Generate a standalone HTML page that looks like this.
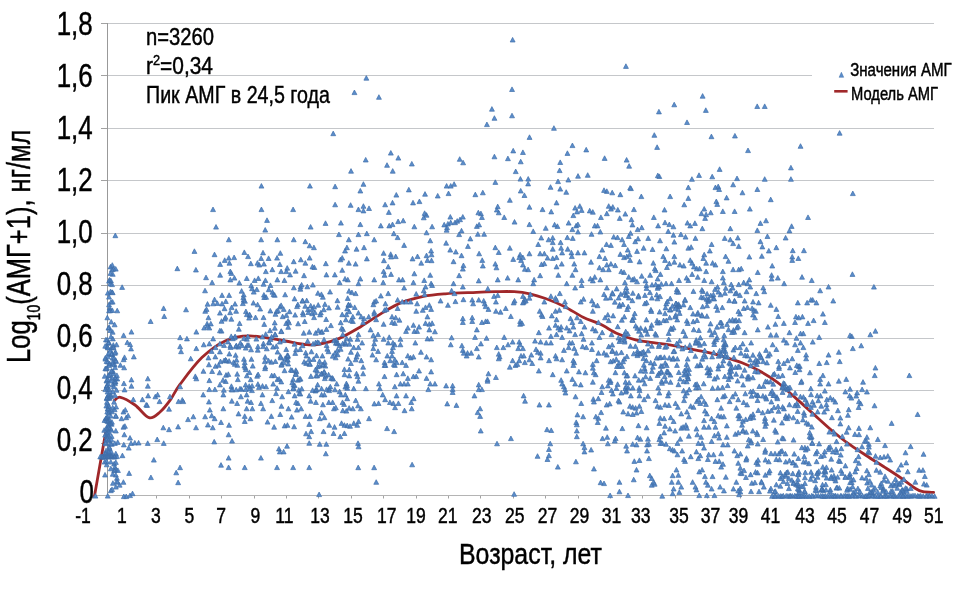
<!DOCTYPE html>
<html><head><meta charset="utf-8"><style>
html,body{margin:0;padding:0;background:#fff;}
svg{display:block;}
text{font-family:"Liberation Sans", "Noto Sans CJK SC", sans-serif;fill:#000;stroke:#000;stroke-width:0.45px;}
</style></head><body>
<svg width="958" height="590" viewBox="0 0 958 590">
<rect width="958" height="590" fill="#fff"/>
<g stroke="#c5c7ca" stroke-width="1" fill="none">
<line x1="107" y1="443.5" x2="934" y2="443.5"/><line x1="107" y1="390.5" x2="934" y2="390.5"/><line x1="107" y1="338.5" x2="934" y2="338.5"/><line x1="107" y1="285.5" x2="934" y2="285.5"/><line x1="107" y1="233.5" x2="934" y2="233.5"/><line x1="107" y1="180.5" x2="934" y2="180.5"/><line x1="107" y1="128.5" x2="934" y2="128.5"/><line x1="107" y1="75.5" x2="934" y2="75.5"/><line x1="107" y1="23.5" x2="934" y2="23.5"/>
</g>
<g stroke="#a2a2a2" stroke-width="1" fill="none">
<line x1="101" y1="495.5" x2="107" y2="495.5"/><line x1="101" y1="443.5" x2="107" y2="443.5"/><line x1="101" y1="390.5" x2="107" y2="390.5"/><line x1="101" y1="338.5" x2="107" y2="338.5"/><line x1="101" y1="285.5" x2="107" y2="285.5"/><line x1="101" y1="233.5" x2="107" y2="233.5"/><line x1="101" y1="180.5" x2="107" y2="180.5"/><line x1="101" y1="128.5" x2="107" y2="128.5"/><line x1="101" y1="75.5" x2="107" y2="75.5"/><line x1="101" y1="23.5" x2="107" y2="23.5"/>
<line x1="92.5" y1="495.5" x2="92.5" y2="498.5"/><line x1="124.5" y1="495.5" x2="124.5" y2="498.5"/><line x1="156.5" y1="495.5" x2="156.5" y2="498.5"/><line x1="189.5" y1="495.5" x2="189.5" y2="498.5"/><line x1="221.5" y1="495.5" x2="221.5" y2="498.5"/><line x1="254.5" y1="495.5" x2="254.5" y2="498.5"/><line x1="286.5" y1="495.5" x2="286.5" y2="498.5"/><line x1="318.5" y1="495.5" x2="318.5" y2="498.5"/><line x1="351.5" y1="495.5" x2="351.5" y2="498.5"/><line x1="383.5" y1="495.5" x2="383.5" y2="498.5"/><line x1="416.5" y1="495.5" x2="416.5" y2="498.5"/><line x1="448.5" y1="495.5" x2="448.5" y2="498.5"/><line x1="480.5" y1="495.5" x2="480.5" y2="498.5"/><line x1="513.5" y1="495.5" x2="513.5" y2="498.5"/><line x1="545.5" y1="495.5" x2="545.5" y2="498.5"/><line x1="578.5" y1="495.5" x2="578.5" y2="498.5"/><line x1="610.5" y1="495.5" x2="610.5" y2="498.5"/><line x1="642.5" y1="495.5" x2="642.5" y2="498.5"/><line x1="675.5" y1="495.5" x2="675.5" y2="498.5"/><line x1="707.5" y1="495.5" x2="707.5" y2="498.5"/><line x1="740.5" y1="495.5" x2="740.5" y2="498.5"/><line x1="772.5" y1="495.5" x2="772.5" y2="498.5"/><line x1="804.5" y1="495.5" x2="804.5" y2="498.5"/><line x1="837.5" y1="495.5" x2="837.5" y2="498.5"/><line x1="869.5" y1="495.5" x2="869.5" y2="498.5"/><line x1="902.5" y1="495.5" x2="902.5" y2="498.5"/><line x1="934.5" y1="495.5" x2="934.5" y2="498.5"/>
</g>
<line x1="91.5" y1="495.5" x2="934" y2="495.5" stroke="#b4b4b4" stroke-width="1"/>
<line x1="107.5" y1="23" x2="107.5" y2="496" stroke="#999" stroke-width="1"/>
<g font-size="32.4" style="stroke-width:0.7px">
<text x="93.8" y="502.7" text-anchor="end" transform="translate(93.8 0) scale(0.8 1) translate(-93.8 0)">0</text>
<text x="92.7" y="450.7" text-anchor="end" transform="translate(92.7 0) scale(0.8 1) translate(-92.7 0)">0,2</text>
<text x="92.7" y="398.7" text-anchor="end" transform="translate(92.7 0) scale(0.8 1) translate(-92.7 0)">0,4</text>
<text x="92.7" y="346.7" text-anchor="end" transform="translate(92.7 0) scale(0.8 1) translate(-92.7 0)">0,6</text>
<text x="92.7" y="294.7" text-anchor="end" transform="translate(92.7 0) scale(0.8 1) translate(-92.7 0)">0,8</text>
<text x="92.7" y="242.7" text-anchor="end" transform="translate(92.7 0) scale(0.8 1) translate(-92.7 0)">1,0</text>
<text x="92.7" y="190.7" text-anchor="end" transform="translate(92.7 0) scale(0.8 1) translate(-92.7 0)">1,2</text>
<text x="92.7" y="138.7" text-anchor="end" transform="translate(92.7 0) scale(0.8 1) translate(-92.7 0)">1,4</text>
<text x="92.7" y="86.7" text-anchor="end" transform="translate(92.7 0) scale(0.8 1) translate(-92.7 0)">1,6</text>
<text x="92.7" y="34.7" text-anchor="end" transform="translate(92.7 0) scale(0.8 1) translate(-92.7 0)">1,8</text>
</g>
<g font-size="21.4">
<text x="83.0" y="522.9" text-anchor="middle" transform="translate(83.0 0) scale(0.82 1) translate(-83.0 0)">-1</text>
<text x="121.8" y="522.9" text-anchor="middle" transform="translate(121.8 0) scale(0.82 1) translate(-121.8 0)">1</text>
<text x="155.9" y="522.9" text-anchor="middle" transform="translate(155.9 0) scale(0.82 1) translate(-155.9 0)">3</text>
<text x="189.5" y="522.9" text-anchor="middle" transform="translate(189.5 0) scale(0.82 1) translate(-189.5 0)">5</text>
<text x="221.2" y="522.9" text-anchor="middle" transform="translate(221.2 0) scale(0.82 1) translate(-221.2 0)">7</text>
<text x="255.5" y="522.9" text-anchor="middle" transform="translate(255.5 0) scale(0.82 1) translate(-255.5 0)">9</text>
<text x="284.3" y="522.9" text-anchor="middle" transform="translate(284.3 0) scale(0.82 1) translate(-284.3 0)">11</text>
<text x="319.9" y="522.9" text-anchor="middle" transform="translate(319.9 0) scale(0.82 1) translate(-319.9 0)">13</text>
<text x="353.1" y="522.9" text-anchor="middle" transform="translate(353.1 0) scale(0.82 1) translate(-353.1 0)">15</text>
<text x="386.8" y="522.9" text-anchor="middle" transform="translate(386.8 0) scale(0.82 1) translate(-386.8 0)">17</text>
<text x="415.9" y="522.9" text-anchor="middle" transform="translate(415.9 0) scale(0.82 1) translate(-415.9 0)">19</text>
<text x="447.8" y="522.9" text-anchor="middle" transform="translate(447.8 0) scale(0.82 1) translate(-447.8 0)">21</text>
<text x="481.7" y="522.9" text-anchor="middle" transform="translate(481.7 0) scale(0.82 1) translate(-481.7 0)">23</text>
<text x="514.8" y="522.9" text-anchor="middle" transform="translate(514.8 0) scale(0.82 1) translate(-514.8 0)">25</text>
<text x="547.6" y="522.9" text-anchor="middle" transform="translate(547.6 0) scale(0.82 1) translate(-547.6 0)">27</text>
<text x="579.6" y="522.9" text-anchor="middle" transform="translate(579.6 0) scale(0.82 1) translate(-579.6 0)">29</text>
<text x="611.5" y="522.9" text-anchor="middle" transform="translate(611.5 0) scale(0.82 1) translate(-611.5 0)">31</text>
<text x="640.8" y="522.9" text-anchor="middle" transform="translate(640.8 0) scale(0.82 1) translate(-640.8 0)">33</text>
<text x="678.9" y="522.9" text-anchor="middle" transform="translate(678.9 0) scale(0.82 1) translate(-678.9 0)">35</text>
<text x="710.5" y="522.9" text-anchor="middle" transform="translate(710.5 0) scale(0.82 1) translate(-710.5 0)">37</text>
<text x="738.6" y="522.9" text-anchor="middle" transform="translate(738.6 0) scale(0.82 1) translate(-738.6 0)">39</text>
<text x="770.4" y="522.9" text-anchor="middle" transform="translate(770.4 0) scale(0.82 1) translate(-770.4 0)">41</text>
<text x="805.0" y="522.9" text-anchor="middle" transform="translate(805.0 0) scale(0.82 1) translate(-805.0 0)">43</text>
<text x="836.9" y="522.9" text-anchor="middle" transform="translate(836.9 0) scale(0.82 1) translate(-836.9 0)">45</text>
<text x="869.6" y="522.9" text-anchor="middle" transform="translate(869.6 0) scale(0.82 1) translate(-869.6 0)">47</text>
<text x="902.3" y="522.9" text-anchor="middle" transform="translate(902.3 0) scale(0.82 1) translate(-902.3 0)">49</text>
<text x="933.7" y="522.9" text-anchor="middle" transform="translate(933.7 0) scale(0.82 1) translate(-933.7 0)">51</text>
</g>
<text x="459" y="563.9" font-size="29.7" textLength="143" lengthAdjust="spacingAndGlyphs">Возраст, лет</text>
<text transform="translate(29.9 363) rotate(-90)" font-size="32.7" textLength="233.5" lengthAdjust="spacingAndGlyphs"><tspan>Log</tspan><tspan font-size="18" dy="9.8">10</tspan><tspan dy="-9.8">(АМГ+1), нг/мл</tspan></text>
<g font-size="24.5">
<text x="146" y="45" textLength="68" lengthAdjust="spacingAndGlyphs">n=3260</text>
<text x="146" y="74.2" textLength="67" lengthAdjust="spacingAndGlyphs"><tspan>r</tspan><tspan font-size="15" dy="-9">2</tspan><tspan dy="9">=0,34</tspan></text>
<text x="146" y="103.3" textLength="184" lengthAdjust="spacingAndGlyphs">Пик АМГ в 24,5 года</text>
</g>
<rect x="812" y="55" width="146" height="55" fill="#fff"/>
<path d="M94.5,496.0 L105.9,430.9 M114.2,400.6 C115.2,400.1 117.0,396.6 120.5,397.3 C124.0,398.0 130.2,401.6 135.0,405.0 C139.8,408.4 144.8,416.5 149.0,417.7 C153.2,418.9 156.5,414.9 160.0,412.0 C163.5,409.1 166.7,404.9 170.0,400.4 C173.3,395.8 174.5,391.8 179.8,384.7 C185.1,377.6 194.3,364.9 201.9,357.6 C209.5,350.3 217.7,344.3 225.6,340.7 C233.5,337.1 240.3,336.0 249.3,335.9 C258.3,335.8 270.2,338.5 279.8,340.0 C289.4,341.5 300.3,344.0 307.0,344.7 C313.7,345.4 314.7,345.0 320.0,344.0 C325.3,343.0 332.0,341.5 338.8,338.6 C345.6,335.7 353.4,331.0 360.7,326.7 C368.0,322.4 375.8,316.6 382.6,312.6 C389.4,308.6 394.6,305.3 401.4,302.6 C408.2,299.9 416.1,297.9 423.4,296.4 C430.7,294.9 436.4,294.5 445.3,293.8 C454.2,293.1 468.2,292.7 476.6,292.3 C485.0,291.9 489.1,291.8 495.4,291.7 C501.7,291.6 508.5,291.3 514.2,291.7 C519.9,292.1 524.6,292.7 529.8,293.8 C535.0,294.9 539.8,296.4 545.5,298.5 C551.2,300.6 558.0,303.3 564.3,306.4 C570.6,309.5 577.1,314.4 583.1,317.3 C589.1,320.2 594.2,321.4 600.0,324.1 C605.8,326.8 611.8,331.1 617.7,333.7 C623.6,336.3 629.6,338.3 635.5,339.8 C641.4,341.3 647.3,341.7 653.2,342.6 C659.1,343.5 665.1,344.1 671.0,345.1 C676.9,346.1 682.8,347.4 688.7,348.6 C694.6,349.8 700.6,350.8 706.5,352.2 C712.4,353.6 718.3,355.0 724.2,356.8 C730.1,358.6 736.1,360.4 742.0,362.8 C747.9,365.2 753.8,367.8 759.7,371.0 C765.6,374.2 771.6,377.9 777.5,382.3 C783.4,386.7 789.3,392.4 795.2,397.6 C801.1,402.8 807.1,408.3 813.0,413.6 C818.9,418.9 824.8,424.5 830.7,429.5 C836.6,434.5 842.5,439.4 848.4,443.7 C854.3,448.0 860.3,451.6 866.2,455.5 C872.1,459.4 878.0,463.0 883.9,466.8 C889.8,470.6 896.4,474.8 901.7,478.5 C907.0,482.2 912.4,486.6 915.9,488.8 C919.4,491.0 920.0,491.1 923.0,491.7 C926.0,492.3 931.8,492.3 933.6,492.4" fill="none" stroke="#a0282a" stroke-width="2.8" stroke-linejoin="round" stroke-linecap="round"/>
<path d="M512.6 37.4l2.5 4.6h-4.9zM366.3 75.6l2.5 4.6h-4.9zM354.4 90.0l2.5 4.6h-4.9zM378.9 94.7l2.5 4.6h-4.9zM512.0 86.9l2.5 4.6h-4.9zM491.9 106.6l2.5 4.6h-4.9zM494.4 115.7l2.5 4.6h-4.9zM486.9 122.0l2.5 4.6h-4.9zM512.0 113.2l2.5 4.6h-4.9zM333.2 131.1l2.5 4.6h-4.9zM553.9 125.7l2.5 4.6h-4.9zM529.5 134.8l2.5 4.6h-4.9zM572.4 143.0l2.5 4.6h-4.9zM567.4 150.8l2.5 4.6h-4.9zM586.2 147.3l2.5 4.6h-4.9zM513.2 148.3l2.5 4.6h-4.9zM522.9 149.9l2.5 4.6h-4.9zM494.4 154.2l2.5 4.6h-4.9zM507.9 156.1l2.5 4.6h-4.9zM520.7 159.2l2.5 4.6h-4.9zM560.2 159.9l2.5 4.6h-4.9zM559.6 168.0l2.5 4.6h-4.9zM515.7 169.0l2.5 4.6h-4.9zM520.4 176.5l2.5 4.6h-4.9zM528.2 176.5l2.5 4.6h-4.9zM578.0 173.6l2.5 4.6h-4.9zM587.7 172.7l2.5 4.6h-4.9zM568.3 177.4l2.5 4.6h-4.9zM558.0 179.0l2.5 4.6h-4.9zM390.8 150.5l2.5 4.6h-4.9zM398.3 155.5l2.5 4.6h-4.9zM365.7 157.4l2.5 4.6h-4.9zM387.0 162.7l2.5 4.6h-4.9zM392.7 168.6l2.5 4.6h-4.9zM411.8 161.4l2.5 4.6h-4.9zM351.0 168.6l2.5 4.6h-4.9zM459.7 156.7l2.5 4.6h-4.9zM463.1 160.2l2.5 4.6h-4.9zM625.9 63.8l2.5 4.6h-4.9zM702.6 93.6l2.5 4.6h-4.9zM674.2 102.2l2.5 4.6h-4.9zM658.9 109.3l2.5 4.6h-4.9zM705.8 107.8l2.5 4.6h-4.9zM757.2 103.9l2.5 4.6h-4.9zM764.7 103.9l2.5 4.6h-4.9zM687.0 119.9l2.5 4.6h-4.9zM654.3 132.7l2.5 4.6h-4.9zM657.1 144.8l2.5 4.6h-4.9zM711.4 134.1l2.5 4.6h-4.9zM734.9 133.4l2.5 4.6h-4.9zM748.0 148.0l2.5 4.6h-4.9zM800.5 143.7l2.5 4.6h-4.9zM839.6 130.6l2.5 4.6h-4.9zM604.6 155.8l2.5 4.6h-4.9zM626.6 157.5l2.5 4.6h-4.9zM629.1 163.6l2.5 4.6h-4.9zM719.6 166.8l2.5 4.6h-4.9zM790.9 165.3l2.5 4.6h-4.9zM657.8 173.1l2.5 4.6h-4.9zM659.3 173.9l2.5 4.6h-4.9zM699.0 172.8l2.5 4.6h-4.9zM691.9 176.7l2.5 4.6h-4.9zM712.2 174.2l2.5 4.6h-4.9zM737.0 176.0l2.5 4.6h-4.9zM764.7 176.7l2.5 4.6h-4.9zM790.9 176.7l2.5 4.6h-4.9zM115.3 233.1l2.5 4.6h-4.9zM213.0 207.0l2.5 4.6h-4.9zM216.0 224.5l2.5 4.6h-4.9zM261.4 183.5l2.5 4.6h-4.9zM261.4 207.0l2.5 4.6h-4.9zM267.0 217.8l2.5 4.6h-4.9zM265.2 227.5l2.5 4.6h-4.9zM293.1 207.0l2.5 4.6h-4.9zM309.9 183.5l2.5 4.6h-4.9zM310.6 224.5l2.5 4.6h-4.9zM325.5 220.8l2.5 4.6h-4.9zM223.8 387.6l2.5 4.6h-4.9zM231.4 387.2l2.5 4.6h-4.9zM236.2 387.2l2.5 4.6h-4.9zM240.0 386.3l2.5 4.6h-4.9zM249.5 386.3l2.5 4.6h-4.9zM277.0 385.7l2.5 4.6h-4.9zM288.4 389.1l2.5 4.6h-4.9zM293.1 386.3l2.5 4.6h-4.9zM298.8 387.6l2.5 4.6h-4.9zM301.7 386.3l2.5 4.6h-4.9zM316.8 387.2l2.5 4.6h-4.9zM329.2 386.3l2.5 4.6h-4.9zM334.9 387.2l2.5 4.6h-4.9zM339.6 389.1l2.5 4.6h-4.9zM347.2 385.7l2.5 4.6h-4.9zM223.3 392.3l2.5 4.6h-4.9zM240.9 394.2l2.5 4.6h-4.9zM246.6 392.3l2.5 4.6h-4.9zM262.4 392.3l2.5 4.6h-4.9zM276.0 391.0l2.5 4.6h-4.9zM282.1 394.2l2.5 4.6h-4.9zM294.6 393.3l2.5 4.6h-4.9zM299.2 391.0l2.5 4.6h-4.9zM300.3 391.4l2.5 4.6h-4.9zM309.2 393.3l2.5 4.6h-4.9zM321.6 392.3l2.5 4.6h-4.9zM324.4 392.3l2.5 4.6h-4.9zM340.9 392.3l2.5 4.6h-4.9zM345.3 392.3l2.5 4.6h-4.9zM347.2 396.1l2.5 4.6h-4.9zM231.8 398.6l2.5 4.6h-4.9zM237.1 400.9l2.5 4.6h-4.9zM247.6 398.6l2.5 4.6h-4.9zM251.0 399.9l2.5 4.6h-4.9zM260.9 400.9l2.5 4.6h-4.9zM272.2 398.0l2.5 4.6h-4.9zM296.0 399.9l2.5 4.6h-4.9zM297.9 400.9l2.5 4.6h-4.9zM310.6 398.6l2.5 4.6h-4.9zM315.9 399.9l2.5 4.6h-4.9zM322.9 402.2l2.5 4.6h-4.9zM328.8 399.9l2.5 4.6h-4.9zM332.6 399.9l2.5 4.6h-4.9zM342.5 399.9l2.5 4.6h-4.9zM344.0 401.8l2.5 4.6h-4.9zM223.3 406.2l2.5 4.6h-4.9zM246.6 406.2l2.5 4.6h-4.9zM252.3 406.2l2.5 4.6h-4.9zM263.1 406.2l2.5 4.6h-4.9zM281.4 403.7l2.5 4.6h-4.9zM288.4 406.2l2.5 4.6h-4.9zM296.9 407.5l2.5 4.6h-4.9zM301.1 406.2l2.5 4.6h-4.9zM333.9 406.2l2.5 4.6h-4.9zM335.8 405.2l2.5 4.6h-4.9zM342.8 408.1l2.5 4.6h-4.9zM346.3 408.5l2.5 4.6h-4.9zM349.1 405.6l2.5 4.6h-4.9zM238.5 411.3l2.5 4.6h-4.9zM244.7 413.8l2.5 4.6h-4.9zM250.4 416.1l2.5 4.6h-4.9zM271.3 413.8l2.5 4.6h-4.9zM280.2 411.9l2.5 4.6h-4.9zM291.6 414.5l2.5 4.6h-4.9zM305.5 413.8l2.5 4.6h-4.9zM309.8 413.8l2.5 4.6h-4.9zM321.6 410.4l2.5 4.6h-4.9zM319.7 416.1l2.5 4.6h-4.9zM324.4 415.1l2.5 4.6h-4.9zM221.0 419.9l2.5 4.6h-4.9zM229.0 422.7l2.5 4.6h-4.9zM244.7 418.9l2.5 4.6h-4.9zM267.5 419.5l2.5 4.6h-4.9zM274.1 424.6l2.5 4.6h-4.9zM284.6 423.3l2.5 4.6h-4.9zM287.4 422.7l2.5 4.6h-4.9zM294.1 424.2l2.5 4.6h-4.9zM309.2 421.8l2.5 4.6h-4.9zM329.2 422.7l2.5 4.6h-4.9zM334.5 424.6l2.5 4.6h-4.9zM341.5 420.8l2.5 4.6h-4.9zM344.4 422.7l2.5 4.6h-4.9zM347.2 423.1l2.5 4.6h-4.9zM228.6 432.2l2.5 4.6h-4.9zM306.0 431.2l2.5 4.6h-4.9zM311.1 429.0l2.5 4.6h-4.9zM323.5 429.0l2.5 4.6h-4.9zM333.5 430.9l2.5 4.6h-4.9zM344.4 430.9l2.5 4.6h-4.9zM309.2 434.1l2.5 4.6h-4.9zM340.2 434.1l2.5 4.6h-4.9zM232.0 438.5l2.5 4.6h-4.9zM309.2 440.7l2.5 4.6h-4.9zM319.7 441.7l2.5 4.6h-4.9zM326.3 441.7l2.5 4.6h-4.9zM287.0 443.6l2.5 4.6h-4.9zM278.9 446.4l2.5 4.6h-4.9zM279.8 449.3l2.5 4.6h-4.9zM283.6 449.3l2.5 4.6h-4.9zM325.8 451.2l2.5 4.6h-4.9zM228.6 455.5l2.5 4.6h-4.9zM260.9 455.5l2.5 4.6h-4.9zM221.0 462.6l2.5 4.6h-4.9zM228.6 465.0l2.5 4.6h-4.9zM244.7 465.0l2.5 4.6h-4.9zM277.0 465.0l2.5 4.6h-4.9zM293.1 465.0l2.5 4.6h-4.9zM309.2 465.0l2.5 4.6h-4.9zM319.1 492.0l2.5 4.6h-4.9zM382.7 392.3l2.5 4.6h-4.9zM396.5 393.3l2.5 4.6h-4.9zM406.0 393.3l2.5 4.6h-4.9zM413.6 396.1l2.5 4.6h-4.9zM355.7 398.0l2.5 4.6h-4.9zM385.1 397.1l2.5 4.6h-4.9zM389.9 399.9l2.5 4.6h-4.9zM393.3 400.9l2.5 4.6h-4.9zM398.4 400.9l2.5 4.6h-4.9zM411.2 399.9l2.5 4.6h-4.9zM374.3 401.3l2.5 4.6h-4.9zM378.5 400.9l2.5 4.6h-4.9zM358.0 403.2l2.5 4.6h-4.9zM352.8 406.2l2.5 4.6h-4.9zM360.8 406.2l2.5 4.6h-4.9zM395.0 405.1l2.5 4.6h-4.9zM404.5 408.1l2.5 4.6h-4.9zM411.7 406.2l2.5 4.6h-4.9zM452.6 389.9l2.5 4.6h-4.9zM447.2 401.3l2.5 4.6h-4.9zM456.4 402.8l2.5 4.6h-4.9zM474.4 393.3l2.5 4.6h-4.9zM480.1 406.2l2.5 4.6h-4.9zM477.6 410.0l2.5 4.6h-4.9zM480.1 413.8l2.5 4.6h-4.9zM369.0 416.1l2.5 4.6h-4.9zM358.5 418.9l2.5 4.6h-4.9zM353.8 420.8l2.5 4.6h-4.9zM357.2 422.7l2.5 4.6h-4.9zM350.0 423.7l2.5 4.6h-4.9zM387.0 426.0l2.5 4.6h-4.9zM394.1 429.0l2.5 4.6h-4.9zM480.7 428.4l2.5 4.6h-4.9zM358.0 440.8l2.5 4.6h-4.9zM358.5 444.2l2.5 4.6h-4.9zM358.2 465.1l2.5 4.6h-4.9zM374.1 465.1l2.5 4.6h-4.9zM412.1 462.2l2.5 4.6h-4.9zM376.2 479.7l2.5 4.6h-4.9zM565.4 390.4l2.5 4.6h-4.9zM575.5 394.2l2.5 4.6h-4.9zM523.6 393.3l2.5 4.6h-4.9zM525.0 398.6l2.5 4.6h-4.9zM539.4 402.4l2.5 4.6h-4.9zM548.9 402.4l2.5 4.6h-4.9zM581.2 400.9l2.5 4.6h-4.9zM593.3 396.7l2.5 4.6h-4.9zM598.3 396.1l2.5 4.6h-4.9zM593.9 399.4l2.5 4.6h-4.9zM601.5 389.9l2.5 4.6h-4.9zM606.6 402.4l2.5 4.6h-4.9zM609.7 401.3l2.5 4.6h-4.9zM577.4 412.3l2.5 4.6h-4.9zM583.1 414.2l2.5 4.6h-4.9zM595.8 414.2l2.5 4.6h-4.9zM598.3 415.7l2.5 4.6h-4.9zM601.1 410.0l2.5 4.6h-4.9zM597.7 419.9l2.5 4.6h-4.9zM576.2 419.9l2.5 4.6h-4.9zM576.8 422.2l2.5 4.6h-4.9zM547.0 427.1l2.5 4.6h-4.9zM551.2 427.9l2.5 4.6h-4.9zM576.8 428.4l2.5 4.6h-4.9zM605.9 425.6l2.5 4.6h-4.9zM576.8 434.1l2.5 4.6h-4.9zM510.9 436.0l2.5 4.6h-4.9zM602.5 436.0l2.5 4.6h-4.9zM607.2 434.7l2.5 4.6h-4.9zM497.0 441.2l2.5 4.6h-4.9zM550.2 441.2l2.5 4.6h-4.9zM583.1 441.2l2.5 4.6h-4.9zM607.8 441.2l2.5 4.6h-4.9zM584.4 445.0l2.5 4.6h-4.9zM548.9 446.9l2.5 4.6h-4.9zM591.1 447.4l2.5 4.6h-4.9zM584.4 449.3l2.5 4.6h-4.9zM537.5 453.7l2.5 4.6h-4.9zM548.9 453.1l2.5 4.6h-4.9zM547.4 456.9l2.5 4.6h-4.9zM575.9 459.2l2.5 4.6h-4.9zM557.8 464.5l2.5 4.6h-4.9zM593.9 466.4l2.5 4.6h-4.9zM600.6 480.1l2.5 4.6h-4.9zM604.0 481.0l2.5 4.6h-4.9zM514.1 491.7l2.5 4.6h-4.9zM610.1 493.0l2.5 4.6h-4.9zM612.8 391.4l2.5 4.6h-4.9zM621.3 390.4l2.5 4.6h-4.9zM625.7 389.5l2.5 4.6h-4.9zM630.8 393.3l2.5 4.6h-4.9zM618.5 398.0l2.5 4.6h-4.9zM619.4 399.4l2.5 4.6h-4.9zM629.9 403.7l2.5 4.6h-4.9zM632.7 404.7l2.5 4.6h-4.9zM635.6 405.6l2.5 4.6h-4.9zM639.4 403.7l2.5 4.6h-4.9zM623.2 409.4l2.5 4.6h-4.9zM628.0 411.3l2.5 4.6h-4.9zM632.7 411.9l2.5 4.6h-4.9zM636.5 410.4l2.5 4.6h-4.9zM641.3 408.9l2.5 4.6h-4.9zM639.4 393.3l2.5 4.6h-4.9zM647.9 393.7l2.5 4.6h-4.9zM644.1 397.1l2.5 4.6h-4.9zM655.5 398.0l2.5 4.6h-4.9zM659.3 390.4l2.5 4.6h-4.9zM657.4 403.7l2.5 4.6h-4.9zM660.3 404.7l2.5 4.6h-4.9zM665.0 402.4l2.5 4.6h-4.9zM668.8 402.8l2.5 4.6h-4.9zM667.9 393.3l2.5 4.6h-4.9zM668.8 390.4l2.5 4.6h-4.9zM675.5 400.9l2.5 4.6h-4.9zM677.8 404.7l2.5 4.6h-4.9zM684.0 398.0l2.5 4.6h-4.9zM686.9 390.4l2.5 4.6h-4.9zM685.0 393.3l2.5 4.6h-4.9zM686.9 409.4l2.5 4.6h-4.9zM681.2 411.3l2.5 4.6h-4.9zM690.7 403.7l2.5 4.6h-4.9zM693.5 404.7l2.5 4.6h-4.9zM696.7 399.0l2.5 4.6h-4.9zM698.3 397.1l2.5 4.6h-4.9zM701.1 394.2l2.5 4.6h-4.9zM700.2 400.9l2.5 4.6h-4.9zM704.0 399.0l2.5 4.6h-4.9zM705.9 401.8l2.5 4.6h-4.9zM704.9 408.5l2.5 4.6h-4.9zM706.8 411.3l2.5 4.6h-4.9zM717.3 397.1l2.5 4.6h-4.9zM721.1 405.6l2.5 4.6h-4.9zM723.0 394.2l2.5 4.6h-4.9zM724.9 393.3l2.5 4.6h-4.9zM729.6 399.0l2.5 4.6h-4.9zM732.5 394.2l2.5 4.6h-4.9zM735.3 391.4l2.5 4.6h-4.9zM738.2 397.1l2.5 4.6h-4.9zM718.2 413.2l2.5 4.6h-4.9zM721.1 414.2l2.5 4.6h-4.9zM723.9 414.2l2.5 4.6h-4.9zM736.3 405.6l2.5 4.6h-4.9zM738.2 413.2l2.5 4.6h-4.9zM739.1 416.1l2.5 4.6h-4.9zM622.3 426.0l2.5 4.6h-4.9zM638.4 423.1l2.5 4.6h-4.9zM637.5 435.1l2.5 4.6h-4.9zM640.3 436.6l2.5 4.6h-4.9zM615.6 436.0l2.5 4.6h-4.9zM614.7 438.5l2.5 4.6h-4.9zM646.6 425.2l2.5 4.6h-4.9zM647.9 436.6l2.5 4.6h-4.9zM660.3 415.7l2.5 4.6h-4.9zM664.1 416.1l2.5 4.6h-4.9zM659.3 420.8l2.5 4.6h-4.9zM665.0 423.7l2.5 4.6h-4.9zM669.8 426.5l2.5 4.6h-4.9zM675.1 428.4l2.5 4.6h-4.9zM664.1 430.3l2.5 4.6h-4.9zM660.3 434.1l2.5 4.6h-4.9zM659.3 437.0l2.5 4.6h-4.9zM662.2 440.8l2.5 4.6h-4.9zM648.9 441.7l2.5 4.6h-4.9zM670.7 415.1l2.5 4.6h-4.9zM673.6 418.9l2.5 4.6h-4.9zM683.1 424.6l2.5 4.6h-4.9zM685.9 422.7l2.5 4.6h-4.9zM686.9 425.6l2.5 4.6h-4.9zM681.2 425.6l2.5 4.6h-4.9zM688.8 414.2l2.5 4.6h-4.9zM680.2 436.6l2.5 4.6h-4.9zM688.8 433.6l2.5 4.6h-4.9zM677.4 440.8l2.5 4.6h-4.9zM696.4 426.5l2.5 4.6h-4.9zM697.3 432.2l2.5 4.6h-4.9zM701.1 434.7l2.5 4.6h-4.9zM704.0 418.0l2.5 4.6h-4.9zM704.0 424.6l2.5 4.6h-4.9zM708.7 424.6l2.5 4.6h-4.9zM711.6 416.1l2.5 4.6h-4.9zM714.4 418.9l2.5 4.6h-4.9zM715.4 424.6l2.5 4.6h-4.9zM718.2 431.3l2.5 4.6h-4.9zM714.4 433.2l2.5 4.6h-4.9zM719.2 435.5l2.5 4.6h-4.9zM726.8 423.3l2.5 4.6h-4.9zM726.8 434.7l2.5 4.6h-4.9zM735.3 431.7l2.5 4.6h-4.9zM738.2 430.3l2.5 4.6h-4.9zM711.6 438.9l2.5 4.6h-4.9zM626.1 443.6l2.5 4.6h-4.9zM627.0 448.4l2.5 4.6h-4.9zM632.7 441.7l2.5 4.6h-4.9zM636.5 442.3l2.5 4.6h-4.9zM634.3 458.8l2.5 4.6h-4.9zM639.4 457.9l2.5 4.6h-4.9zM647.0 442.3l2.5 4.6h-4.9zM647.0 448.4l2.5 4.6h-4.9zM648.9 456.0l2.5 4.6h-4.9zM660.3 440.8l2.5 4.6h-4.9zM666.0 441.7l2.5 4.6h-4.9zM669.8 446.1l2.5 4.6h-4.9zM672.6 447.4l2.5 4.6h-4.9zM674.5 448.4l2.5 4.6h-4.9zM677.4 452.2l2.5 4.6h-4.9zM682.1 448.4l2.5 4.6h-4.9zM684.0 456.9l2.5 4.6h-4.9zM685.0 458.8l2.5 4.6h-4.9zM690.7 454.1l2.5 4.6h-4.9zM696.4 449.3l2.5 4.6h-4.9zM698.3 456.0l2.5 4.6h-4.9zM700.2 453.1l2.5 4.6h-4.9zM704.0 445.5l2.5 4.6h-4.9zM698.3 440.8l2.5 4.6h-4.9zM702.1 440.8l2.5 4.6h-4.9zM708.7 452.2l2.5 4.6h-4.9zM713.5 452.2l2.5 4.6h-4.9zM707.8 456.9l2.5 4.6h-4.9zM715.4 458.8l2.5 4.6h-4.9zM719.2 458.8l2.5 4.6h-4.9zM721.1 451.2l2.5 4.6h-4.9zM723.0 461.7l2.5 4.6h-4.9zM723.0 442.3l2.5 4.6h-4.9zM727.7 442.3l2.5 4.6h-4.9zM734.4 448.4l2.5 4.6h-4.9zM737.2 453.1l2.5 4.6h-4.9zM738.2 460.7l2.5 4.6h-4.9zM721.1 464.5l2.5 4.6h-4.9zM619.4 479.7l2.5 4.6h-4.9zM619.4 489.2l2.5 4.6h-4.9zM628.0 493.0l2.5 4.6h-4.9zM633.7 477.2l2.5 4.6h-4.9zM636.5 467.4l2.5 4.6h-4.9zM649.8 473.1l2.5 4.6h-4.9zM651.7 475.9l2.5 4.6h-4.9zM653.6 479.7l2.5 4.6h-4.9zM651.7 482.6l2.5 4.6h-4.9zM654.6 481.6l2.5 4.6h-4.9zM662.2 493.6l2.5 4.6h-4.9zM676.4 467.4l2.5 4.6h-4.9zM672.6 473.1l2.5 4.6h-4.9zM678.3 472.7l2.5 4.6h-4.9zM671.7 479.7l2.5 4.6h-4.9zM678.3 479.7l2.5 4.6h-4.9zM681.2 484.5l2.5 4.6h-4.9zM673.6 486.4l2.5 4.6h-4.9zM672.6 491.1l2.5 4.6h-4.9zM679.3 489.8l2.5 4.6h-4.9zM692.6 479.7l2.5 4.6h-4.9zM695.4 484.5l2.5 4.6h-4.9zM696.4 487.3l2.5 4.6h-4.9zM699.2 493.0l2.5 4.6h-4.9zM699.2 469.3l2.5 4.6h-4.9zM702.1 467.4l2.5 4.6h-4.9zM704.9 474.0l2.5 4.6h-4.9zM705.9 479.7l2.5 4.6h-4.9zM707.8 482.6l2.5 4.6h-4.9zM712.5 474.0l2.5 4.6h-4.9zM711.6 486.4l2.5 4.6h-4.9zM720.1 484.5l2.5 4.6h-4.9zM723.9 488.3l2.5 4.6h-4.9zM725.8 474.6l2.5 4.6h-4.9zM706.8 493.0l2.5 4.6h-4.9zM714.4 493.0l2.5 4.6h-4.9zM733.4 486.4l2.5 4.6h-4.9zM736.3 479.7l2.5 4.6h-4.9zM738.2 488.3l2.5 4.6h-4.9zM739.1 492.1l2.5 4.6h-4.9zM874.5 403.2l2.5 4.6h-4.9zM917.6 411.9l2.5 4.6h-4.9zM891.6 420.8l2.5 4.6h-4.9zM870.2 425.2l2.5 4.6h-4.9zM877.8 436.9l2.5 4.6h-4.9zM866.9 434.7l2.5 4.6h-4.9zM868.8 441.7l2.5 4.6h-4.9zM868.8 444.5l2.5 4.6h-4.9zM885.0 443.0l2.5 4.6h-4.9zM910.6 444.0l2.5 4.6h-4.9zM905.5 450.2l2.5 4.6h-4.9zM923.5 451.7l2.5 4.6h-4.9zM869.4 450.2l2.5 4.6h-4.9zM875.5 453.6l2.5 4.6h-4.9zM880.2 455.0l2.5 4.6h-4.9zM884.0 454.4l2.5 4.6h-4.9zM887.8 453.6l2.5 4.6h-4.9zM890.1 457.4l2.5 4.6h-4.9zM876.4 459.7l2.5 4.6h-4.9zM906.2 460.3l2.5 4.6h-4.9zM901.1 462.5l2.5 4.6h-4.9zM898.3 467.3l2.5 4.6h-4.9zM907.7 469.2l2.5 4.6h-4.9zM919.1 467.7l2.5 4.6h-4.9zM922.9 467.7l2.5 4.6h-4.9zM876.4 467.7l2.5 4.6h-4.9zM880.2 469.6l2.5 4.6h-4.9zM866.9 468.2l2.5 4.6h-4.9zM868.8 472.0l2.5 4.6h-4.9zM924.8 473.9l2.5 4.6h-4.9zM885.0 473.9l2.5 4.6h-4.9zM884.0 477.7l2.5 4.6h-4.9zM887.8 478.7l2.5 4.6h-4.9zM895.4 476.8l2.5 4.6h-4.9zM903.9 476.8l2.5 4.6h-4.9zM915.3 479.6l2.5 4.6h-4.9zM923.9 481.5l2.5 4.6h-4.9zM926.7 482.5l2.5 4.6h-4.9zM869.8 478.7l2.5 4.6h-4.9zM871.7 482.5l2.5 4.6h-4.9zM880.2 483.4l2.5 4.6h-4.9zM896.4 480.6l2.5 4.6h-4.9zM901.1 479.6l2.5 4.6h-4.9zM351.9 290.0l2.5 4.6h-4.9zM355.6 291.0l2.5 4.6h-4.9zM380.8 293.4l2.5 4.6h-4.9zM388.2 291.0l2.5 4.6h-4.9zM374.2 299.4l2.5 4.6h-4.9zM376.1 298.4l2.5 4.6h-4.9zM373.3 302.1l2.5 4.6h-4.9zM385.4 301.2l2.5 4.6h-4.9zM354.7 304.9l2.5 4.6h-4.9zM397.6 297.5l2.5 4.6h-4.9zM402.2 299.4l2.5 4.6h-4.9zM406.0 299.4l2.5 4.6h-4.9zM410.6 299.4l2.5 4.6h-4.9zM416.2 291.5l2.5 4.6h-4.9zM404.1 285.4l2.5 4.6h-4.9zM425.5 284.4l2.5 4.6h-4.9zM423.7 288.2l2.5 4.6h-4.9zM424.6 291.9l2.5 4.6h-4.9zM417.1 301.2l2.5 4.6h-4.9zM425.5 304.9l2.5 4.6h-4.9zM429.3 302.7l2.5 4.6h-4.9zM422.7 307.7l2.5 4.6h-4.9zM416.2 308.7l2.5 4.6h-4.9zM431.1 306.8l2.5 4.6h-4.9zM440.5 298.4l2.5 4.6h-4.9zM447.9 302.7l2.5 4.6h-4.9zM451.6 288.2l2.5 4.6h-4.9zM454.4 291.0l2.5 4.6h-4.9zM455.4 299.0l2.5 4.6h-4.9zM462.8 284.4l2.5 4.6h-4.9zM463.4 297.1l2.5 4.6h-4.9zM472.2 297.5l2.5 4.6h-4.9zM473.1 301.2l2.5 4.6h-4.9zM478.7 297.5l2.5 4.6h-4.9zM397.6 305.9l2.5 4.6h-4.9zM384.5 307.7l2.5 4.6h-4.9zM386.4 306.8l2.5 4.6h-4.9zM358.4 310.5l2.5 4.6h-4.9zM361.2 314.3l2.5 4.6h-4.9zM364.0 316.1l2.5 4.6h-4.9zM368.7 314.3l2.5 4.6h-4.9zM374.2 309.6l2.5 4.6h-4.9zM374.2 311.5l2.5 4.6h-4.9zM352.8 314.3l2.5 4.6h-4.9zM350.9 318.0l2.5 4.6h-4.9zM352.8 318.9l2.5 4.6h-4.9zM363.1 319.9l2.5 4.6h-4.9zM370.5 327.3l2.5 4.6h-4.9zM373.3 332.9l2.5 4.6h-4.9zM378.0 332.0l2.5 4.6h-4.9zM376.1 317.1l2.5 4.6h-4.9zM383.6 321.7l2.5 4.6h-4.9zM392.0 314.3l2.5 4.6h-4.9zM395.7 315.2l2.5 4.6h-4.9zM392.0 319.9l2.5 4.6h-4.9zM394.8 320.8l2.5 4.6h-4.9zM399.4 317.6l2.5 4.6h-4.9zM407.8 325.5l2.5 4.6h-4.9zM406.0 328.8l2.5 4.6h-4.9zM413.4 322.7l2.5 4.6h-4.9zM414.3 328.8l2.5 4.6h-4.9zM417.1 328.8l2.5 4.6h-4.9zM419.0 324.5l2.5 4.6h-4.9zM425.5 320.8l2.5 4.6h-4.9zM427.4 314.3l2.5 4.6h-4.9zM429.3 321.7l2.5 4.6h-4.9zM432.1 320.8l2.5 4.6h-4.9zM429.3 327.3l2.5 4.6h-4.9zM434.9 329.2l2.5 4.6h-4.9zM462.8 316.1l2.5 4.6h-4.9zM462.8 319.9l2.5 4.6h-4.9zM472.2 315.2l2.5 4.6h-4.9zM472.2 318.9l2.5 4.6h-4.9zM476.8 327.3l2.5 4.6h-4.9zM475.0 334.8l2.5 4.6h-4.9zM451.6 335.2l2.5 4.6h-4.9zM427.4 336.3l2.5 4.6h-4.9zM431.1 336.3l2.5 4.6h-4.9zM358.4 332.0l2.5 4.6h-4.9zM357.5 336.7l2.5 4.6h-4.9zM362.1 340.4l2.5 4.6h-4.9zM353.7 345.0l2.5 4.6h-4.9zM358.4 345.0l2.5 4.6h-4.9zM350.9 349.7l2.5 4.6h-4.9zM357.5 351.6l2.5 4.6h-4.9zM356.5 354.4l2.5 4.6h-4.9zM355.6 357.2l2.5 4.6h-4.9zM361.2 358.1l2.5 4.6h-4.9zM350.9 360.9l2.5 4.6h-4.9zM375.2 336.7l2.5 4.6h-4.9zM374.2 341.3l2.5 4.6h-4.9zM373.3 346.0l2.5 4.6h-4.9zM378.0 348.8l2.5 4.6h-4.9zM372.4 352.5l2.5 4.6h-4.9zM376.1 357.2l2.5 4.6h-4.9zM383.6 336.7l2.5 4.6h-4.9zM389.2 334.8l2.5 4.6h-4.9zM388.2 340.4l2.5 4.6h-4.9zM392.9 340.4l2.5 4.6h-4.9zM394.8 342.2l2.5 4.6h-4.9zM400.4 342.2l2.5 4.6h-4.9zM392.9 345.0l2.5 4.6h-4.9zM392.0 348.8l2.5 4.6h-4.9zM400.4 336.7l2.5 4.6h-4.9zM387.3 353.4l2.5 4.6h-4.9zM392.0 353.4l2.5 4.6h-4.9zM384.5 360.0l2.5 4.6h-4.9zM390.1 358.1l2.5 4.6h-4.9zM394.8 357.2l2.5 4.6h-4.9zM396.6 360.0l2.5 4.6h-4.9zM393.8 361.8l2.5 4.6h-4.9zM402.2 360.0l2.5 4.6h-4.9zM407.8 353.4l2.5 4.6h-4.9zM410.6 355.3l2.5 4.6h-4.9zM413.4 354.4l2.5 4.6h-4.9zM415.3 340.4l2.5 4.6h-4.9zM420.9 349.7l2.5 4.6h-4.9zM426.5 354.4l2.5 4.6h-4.9zM431.1 357.2l2.5 4.6h-4.9zM450.7 342.2l2.5 4.6h-4.9zM461.9 343.2l2.5 4.6h-4.9zM462.8 347.8l2.5 4.6h-4.9zM463.8 350.6l2.5 4.6h-4.9zM466.6 353.4l2.5 4.6h-4.9zM467.5 350.6l2.5 4.6h-4.9zM471.2 350.6l2.5 4.6h-4.9zM476.8 346.0l2.5 4.6h-4.9zM478.7 354.4l2.5 4.6h-4.9zM363.1 364.6l2.5 4.6h-4.9zM356.5 371.2l2.5 4.6h-4.9zM363.1 371.2l2.5 4.6h-4.9zM357.5 374.0l2.5 4.6h-4.9zM358.4 378.6l2.5 4.6h-4.9zM384.5 362.8l2.5 4.6h-4.9zM385.4 362.8l2.5 4.6h-4.9zM394.8 362.8l2.5 4.6h-4.9zM396.6 372.1l2.5 4.6h-4.9zM403.2 371.2l2.5 4.6h-4.9zM384.5 374.0l2.5 4.6h-4.9zM406.0 362.8l2.5 4.6h-4.9zM407.8 375.8l2.5 4.6h-4.9zM413.4 374.0l2.5 4.6h-4.9zM416.2 374.0l2.5 4.6h-4.9zM419.0 368.4l2.5 4.6h-4.9zM431.1 369.3l2.5 4.6h-4.9zM426.5 375.8l2.5 4.6h-4.9zM400.4 381.4l2.5 4.6h-4.9zM404.1 381.4l2.5 4.6h-4.9zM407.8 381.4l2.5 4.6h-4.9zM378.9 381.4l2.5 4.6h-4.9zM379.8 386.1l2.5 4.6h-4.9zM394.8 384.2l2.5 4.6h-4.9zM365.9 386.1l2.5 4.6h-4.9zM353.7 386.1l2.5 4.6h-4.9zM428.3 387.0l2.5 4.6h-4.9zM430.2 381.4l2.5 4.6h-4.9zM434.9 381.4l2.5 4.6h-4.9zM446.1 383.3l2.5 4.6h-4.9zM452.6 383.3l2.5 4.6h-4.9zM452.6 387.0l2.5 4.6h-4.9zM478.7 382.3l2.5 4.6h-4.9zM478.7 387.0l2.5 4.6h-4.9zM487.8 286.3l2.5 4.6h-4.9zM494.0 293.8l2.5 4.6h-4.9zM497.7 292.8l2.5 4.6h-4.9zM495.9 299.4l2.5 4.6h-4.9zM483.7 298.4l2.5 4.6h-4.9zM484.7 301.2l2.5 4.6h-4.9zM485.6 304.0l2.5 4.6h-4.9zM488.4 306.8l2.5 4.6h-4.9zM495.9 308.7l2.5 4.6h-4.9zM500.5 309.6l2.5 4.6h-4.9zM505.7 305.9l2.5 4.6h-4.9zM514.5 298.4l2.5 4.6h-4.9zM513.6 300.3l2.5 4.6h-4.9zM522.9 293.8l2.5 4.6h-4.9zM524.8 296.6l2.5 4.6h-4.9zM523.8 299.4l2.5 4.6h-4.9zM525.7 298.4l2.5 4.6h-4.9zM530.4 291.9l2.5 4.6h-4.9zM529.4 295.6l2.5 4.6h-4.9zM522.9 300.3l2.5 4.6h-4.9zM544.3 299.4l2.5 4.6h-4.9zM550.9 293.8l2.5 4.6h-4.9zM555.5 295.6l2.5 4.6h-4.9zM556.5 297.5l2.5 4.6h-4.9zM559.8 291.0l2.5 4.6h-4.9zM564.9 299.4l2.5 4.6h-4.9zM565.8 304.0l2.5 4.6h-4.9zM580.7 299.4l2.5 4.6h-4.9zM583.5 296.6l2.5 4.6h-4.9zM591.9 298.4l2.5 4.6h-4.9zM593.8 302.1l2.5 4.6h-4.9zM597.5 303.1l2.5 4.6h-4.9zM592.8 308.7l2.5 4.6h-4.9zM604.0 291.9l2.5 4.6h-4.9zM605.9 295.6l2.5 4.6h-4.9zM606.8 285.4l2.5 4.6h-4.9zM575.1 285.4l2.5 4.6h-4.9zM539.7 308.7l2.5 4.6h-4.9zM555.5 308.7l2.5 4.6h-4.9zM559.3 307.7l2.5 4.6h-4.9zM605.0 315.2l2.5 4.6h-4.9zM510.8 313.9l2.5 4.6h-4.9zM487.5 318.9l2.5 4.6h-4.9zM485.6 318.9l2.5 4.6h-4.9zM481.9 319.9l2.5 4.6h-4.9zM520.1 318.9l2.5 4.6h-4.9zM522.0 320.8l2.5 4.6h-4.9zM520.1 321.7l2.5 4.6h-4.9zM541.5 312.4l2.5 4.6h-4.9zM542.5 313.9l2.5 4.6h-4.9zM551.8 313.3l2.5 4.6h-4.9zM556.5 317.1l2.5 4.6h-4.9zM570.5 316.1l2.5 4.6h-4.9zM572.3 319.9l2.5 4.6h-4.9zM577.0 315.2l2.5 4.6h-4.9zM580.7 318.9l2.5 4.6h-4.9zM584.4 324.5l2.5 4.6h-4.9zM555.5 322.7l2.5 4.6h-4.9zM558.3 325.5l2.5 4.6h-4.9zM561.1 324.5l2.5 4.6h-4.9zM560.2 327.3l2.5 4.6h-4.9zM566.7 325.5l2.5 4.6h-4.9zM569.5 328.3l2.5 4.6h-4.9zM573.3 324.5l2.5 4.6h-4.9zM549.0 325.5l2.5 4.6h-4.9zM538.8 330.1l2.5 4.6h-4.9zM550.9 333.9l2.5 4.6h-4.9zM556.5 332.0l2.5 4.6h-4.9zM562.1 334.8l2.5 4.6h-4.9zM575.1 332.0l2.5 4.6h-4.9zM581.6 331.1l2.5 4.6h-4.9zM583.5 336.7l2.5 4.6h-4.9zM592.8 326.4l2.5 4.6h-4.9zM595.6 328.3l2.5 4.6h-4.9zM598.4 319.9l2.5 4.6h-4.9zM602.2 330.1l2.5 4.6h-4.9zM599.4 334.8l2.5 4.6h-4.9zM607.8 312.4l2.5 4.6h-4.9zM608.7 318.0l2.5 4.6h-4.9zM486.5 335.7l2.5 4.6h-4.9zM504.2 334.8l2.5 4.6h-4.9zM480.9 341.3l2.5 4.6h-4.9zM496.8 345.0l2.5 4.6h-4.9zM503.3 345.0l2.5 4.6h-4.9zM508.0 342.2l2.5 4.6h-4.9zM512.6 339.5l2.5 4.6h-4.9zM519.2 339.5l2.5 4.6h-4.9zM520.1 342.2l2.5 4.6h-4.9zM518.2 346.0l2.5 4.6h-4.9zM522.9 346.0l2.5 4.6h-4.9zM498.7 351.6l2.5 4.6h-4.9zM499.6 354.4l2.5 4.6h-4.9zM498.7 356.2l2.5 4.6h-4.9zM535.0 338.5l2.5 4.6h-4.9zM540.6 339.5l2.5 4.6h-4.9zM546.2 340.4l2.5 4.6h-4.9zM550.9 340.4l2.5 4.6h-4.9zM536.0 346.9l2.5 4.6h-4.9zM537.8 349.7l2.5 4.6h-4.9zM540.6 350.6l2.5 4.6h-4.9zM540.6 355.3l2.5 4.6h-4.9zM521.0 353.4l2.5 4.6h-4.9zM523.8 353.4l2.5 4.6h-4.9zM531.3 352.5l2.5 4.6h-4.9zM512.6 358.1l2.5 4.6h-4.9zM519.2 358.1l2.5 4.6h-4.9zM524.8 360.0l2.5 4.6h-4.9zM529.4 357.2l2.5 4.6h-4.9zM532.2 360.9l2.5 4.6h-4.9zM517.3 361.8l2.5 4.6h-4.9zM549.0 358.1l2.5 4.6h-4.9zM555.5 353.4l2.5 4.6h-4.9zM556.5 356.2l2.5 4.6h-4.9zM562.1 357.2l2.5 4.6h-4.9zM563.9 347.8l2.5 4.6h-4.9zM569.5 340.4l2.5 4.6h-4.9zM572.3 340.4l2.5 4.6h-4.9zM568.6 345.0l2.5 4.6h-4.9zM574.2 346.0l2.5 4.6h-4.9zM576.1 350.6l2.5 4.6h-4.9zM573.3 358.1l2.5 4.6h-4.9zM582.6 344.1l2.5 4.6h-4.9zM586.3 345.0l2.5 4.6h-4.9zM591.9 346.9l2.5 4.6h-4.9zM591.9 340.4l2.5 4.6h-4.9zM598.4 350.6l2.5 4.6h-4.9zM604.0 350.6l2.5 4.6h-4.9zM606.8 352.5l2.5 4.6h-4.9zM608.7 344.1l2.5 4.6h-4.9zM592.8 361.8l2.5 4.6h-4.9zM596.6 358.1l2.5 4.6h-4.9zM509.8 364.6l2.5 4.6h-4.9zM515.4 362.8l2.5 4.6h-4.9zM488.4 371.2l2.5 4.6h-4.9zM495.9 374.9l2.5 4.6h-4.9zM487.5 376.8l2.5 4.6h-4.9zM487.5 378.6l2.5 4.6h-4.9zM481.9 387.0l2.5 4.6h-4.9zM538.8 368.4l2.5 4.6h-4.9zM552.7 372.1l2.5 4.6h-4.9zM561.1 377.7l2.5 4.6h-4.9zM562.1 381.4l2.5 4.6h-4.9zM563.9 384.2l2.5 4.6h-4.9zM564.9 387.0l2.5 4.6h-4.9zM566.7 368.4l2.5 4.6h-4.9zM573.3 362.8l2.5 4.6h-4.9zM574.2 360.0l2.5 4.6h-4.9zM572.3 376.8l2.5 4.6h-4.9zM575.1 381.4l2.5 4.6h-4.9zM580.7 382.3l2.5 4.6h-4.9zM585.4 370.2l2.5 4.6h-4.9zM592.8 365.6l2.5 4.6h-4.9zM593.8 370.2l2.5 4.6h-4.9zM595.6 372.1l2.5 4.6h-4.9zM592.8 379.6l2.5 4.6h-4.9zM602.2 384.2l2.5 4.6h-4.9zM608.7 377.7l2.5 4.6h-4.9zM607.8 383.3l2.5 4.6h-4.9zM578.9 369.3l2.5 4.6h-4.9zM746.5 289.1l2.5 4.6h-4.9zM750.2 284.4l2.5 4.6h-4.9zM756.2 291.0l2.5 4.6h-4.9zM763.2 285.4l2.5 4.6h-4.9zM764.2 289.1l2.5 4.6h-4.9zM739.9 292.8l2.5 4.6h-4.9zM744.6 298.4l2.5 4.6h-4.9zM753.0 299.4l2.5 4.6h-4.9zM758.6 300.3l2.5 4.6h-4.9zM743.7 305.9l2.5 4.6h-4.9zM747.4 304.9l2.5 4.6h-4.9zM752.1 305.9l2.5 4.6h-4.9zM753.9 307.7l2.5 4.6h-4.9zM755.8 308.7l2.5 4.6h-4.9zM753.0 312.4l2.5 4.6h-4.9zM754.9 315.2l2.5 4.6h-4.9zM770.7 302.7l2.5 4.6h-4.9zM776.3 306.8l2.5 4.6h-4.9zM778.2 313.9l2.5 4.6h-4.9zM797.8 300.3l2.5 4.6h-4.9zM807.1 300.3l2.5 4.6h-4.9zM810.8 297.5l2.5 4.6h-4.9zM812.7 297.5l2.5 4.6h-4.9zM816.4 300.3l2.5 4.6h-4.9zM833.2 298.4l2.5 4.6h-4.9zM820.1 288.2l2.5 4.6h-4.9zM828.5 284.4l2.5 4.6h-4.9zM822.9 311.5l2.5 4.6h-4.9zM739.9 311.5l2.5 4.6h-4.9zM795.9 314.3l2.5 4.6h-4.9zM798.7 315.2l2.5 4.6h-4.9zM802.4 314.3l2.5 4.6h-4.9zM795.0 319.9l2.5 4.6h-4.9zM808.0 320.8l2.5 4.6h-4.9zM813.6 318.0l2.5 4.6h-4.9zM824.8 319.9l2.5 4.6h-4.9zM767.9 324.5l2.5 4.6h-4.9zM775.4 321.7l2.5 4.6h-4.9zM783.8 320.8l2.5 4.6h-4.9zM757.7 327.3l2.5 4.6h-4.9zM744.6 330.1l2.5 4.6h-4.9zM770.7 332.6l2.5 4.6h-4.9zM776.3 332.6l2.5 4.6h-4.9zM789.4 330.1l2.5 4.6h-4.9zM800.5 331.1l2.5 4.6h-4.9zM803.3 331.1l2.5 4.6h-4.9zM796.4 335.7l2.5 4.6h-4.9zM819.2 334.8l2.5 4.6h-4.9zM850.0 332.9l2.5 4.6h-4.9zM851.8 333.9l2.5 4.6h-4.9zM751.1 340.4l2.5 4.6h-4.9zM742.7 341.3l2.5 4.6h-4.9zM739.9 345.0l2.5 4.6h-4.9zM746.5 346.9l2.5 4.6h-4.9zM740.9 350.6l2.5 4.6h-4.9zM747.4 353.4l2.5 4.6h-4.9zM772.6 342.2l2.5 4.6h-4.9zM783.8 337.6l2.5 4.6h-4.9zM786.6 340.4l2.5 4.6h-4.9zM795.0 342.2l2.5 4.6h-4.9zM800.5 340.4l2.5 4.6h-4.9zM803.3 345.0l2.5 4.6h-4.9zM797.8 347.8l2.5 4.6h-4.9zM776.3 346.9l2.5 4.6h-4.9zM766.0 347.8l2.5 4.6h-4.9zM769.8 351.6l2.5 4.6h-4.9zM767.9 353.4l2.5 4.6h-4.9zM812.7 339.5l2.5 4.6h-4.9zM806.1 352.5l2.5 4.6h-4.9zM806.1 356.2l2.5 4.6h-4.9zM828.5 352.5l2.5 4.6h-4.9zM838.8 349.7l2.5 4.6h-4.9zM852.8 346.0l2.5 4.6h-4.9zM861.2 343.2l2.5 4.6h-4.9zM759.5 351.6l2.5 4.6h-4.9zM761.4 355.3l2.5 4.6h-4.9zM755.8 357.2l2.5 4.6h-4.9zM757.7 359.0l2.5 4.6h-4.9zM763.2 359.0l2.5 4.6h-4.9zM778.2 359.0l2.5 4.6h-4.9zM783.8 360.9l2.5 4.6h-4.9zM787.5 358.1l2.5 4.6h-4.9zM792.2 356.2l2.5 4.6h-4.9zM819.2 360.9l2.5 4.6h-4.9zM826.7 360.0l2.5 4.6h-4.9zM839.7 359.0l2.5 4.6h-4.9zM809.9 370.2l2.5 4.6h-4.9zM820.1 376.8l2.5 4.6h-4.9zM822.9 373.0l2.5 4.6h-4.9zM820.1 381.4l2.5 4.6h-4.9zM828.5 381.4l2.5 4.6h-4.9zM838.8 378.6l2.5 4.6h-4.9zM846.2 376.8l2.5 4.6h-4.9zM863.0 379.6l2.5 4.6h-4.9zM850.0 386.6l2.5 4.6h-4.9zM862.1 387.0l2.5 4.6h-4.9zM824.8 388.5l2.5 4.6h-4.9zM810.8 386.1l2.5 4.6h-4.9zM873.9 284.5l2.5 4.6h-4.9zM875.4 328.6l2.5 4.6h-4.9zM870.3 332.2l2.5 4.6h-4.9zM875.4 365.4l2.5 4.6h-4.9zM874.7 373.0l2.5 4.6h-4.9zM909.3 373.0l2.5 4.6h-4.9zM148.1 393.3l2.5 4.6h-4.9zM142.4 397.1l2.5 4.6h-4.9zM133.3 397.1l2.5 4.6h-4.9zM146.2 402.4l2.5 4.6h-4.9zM147.1 402.8l2.5 4.6h-4.9zM155.3 394.2l2.5 4.6h-4.9zM157.6 392.3l2.5 4.6h-4.9zM159.5 399.0l2.5 4.6h-4.9zM169.9 394.2l2.5 4.6h-4.9zM169.0 406.6l2.5 4.6h-4.9zM178.5 399.0l2.5 4.6h-4.9zM182.3 397.5l2.5 4.6h-4.9zM183.2 399.0l2.5 4.6h-4.9zM203.2 392.3l2.5 4.6h-4.9zM208.9 399.4l2.5 4.6h-4.9zM209.8 407.5l2.5 4.6h-4.9zM205.1 414.2l2.5 4.6h-4.9zM211.7 413.2l2.5 4.6h-4.9zM214.6 416.1l2.5 4.6h-4.9zM188.0 417.0l2.5 4.6h-4.9zM193.3 414.2l2.5 4.6h-4.9zM163.3 425.2l2.5 4.6h-4.9zM169.0 427.1l2.5 4.6h-4.9zM178.1 424.3l2.5 4.6h-4.9zM196.0 425.2l2.5 4.6h-4.9zM207.9 422.4l2.5 4.6h-4.9zM212.7 425.2l2.5 4.6h-4.9zM157.2 437.0l2.5 4.6h-4.9zM163.7 440.8l2.5 4.6h-4.9zM147.7 440.8l2.5 4.6h-4.9zM138.6 440.4l2.5 4.6h-4.9zM134.8 440.4l2.5 4.6h-4.9zM131.0 440.8l2.5 4.6h-4.9zM128.7 445.5l2.5 4.6h-4.9zM123.8 442.3l2.5 4.6h-4.9zM130.0 435.5l2.5 4.6h-4.9zM124.3 432.2l2.5 4.6h-4.9zM124.9 423.7l2.5 4.6h-4.9zM123.4 424.6l2.5 4.6h-4.9zM126.2 415.1l2.5 4.6h-4.9zM128.1 413.2l2.5 4.6h-4.9zM121.5 416.1l2.5 4.6h-4.9zM125.3 407.5l2.5 4.6h-4.9zM123.4 409.4l2.5 4.6h-4.9zM115.8 428.4l2.5 4.6h-4.9zM214.2 439.3l2.5 4.6h-4.9zM153.8 457.5l2.5 4.6h-4.9zM180.0 465.1l2.5 4.6h-4.9zM176.2 470.2l2.5 4.6h-4.9zM150.9 475.0l2.5 4.6h-4.9zM178.1 480.1l2.5 4.6h-4.9zM129.1 470.8l2.5 4.6h-4.9zM122.4 453.1l2.5 4.6h-4.9zM123.4 479.7l2.5 4.6h-4.9zM119.6 482.6l2.5 4.6h-4.9zM116.7 478.8l2.5 4.6h-4.9zM115.8 484.5l2.5 4.6h-4.9zM126.2 494.0l2.5 4.6h-4.9zM130.0 493.0l2.5 4.6h-4.9zM132.5 491.1l2.5 4.6h-4.9zM123.8 494.0l2.5 4.6h-4.9zM115.8 413.2l2.5 4.6h-4.9zM114.8 440.8l2.5 4.6h-4.9zM117.7 439.8l2.5 4.6h-4.9zM115.8 451.2l2.5 4.6h-4.9zM114.8 454.1l2.5 4.6h-4.9zM115.8 459.8l2.5 4.6h-4.9zM114.8 464.5l2.5 4.6h-4.9zM112.9 480.7l2.5 4.6h-4.9zM117.7 479.7l2.5 4.6h-4.9zM122.1 284.8l2.5 4.6h-4.9zM163.6 305.9l2.5 4.6h-4.9zM164.2 313.9l2.5 4.6h-4.9zM150.6 318.9l2.5 4.6h-4.9zM186.0 307.2l2.5 4.6h-4.9zM205.0 288.2l2.5 4.6h-4.9zM214.5 297.1l2.5 4.6h-4.9zM217.3 300.8l2.5 4.6h-4.9zM213.1 301.2l2.5 4.6h-4.9zM207.5 301.6l2.5 4.6h-4.9zM206.5 306.8l2.5 4.6h-4.9zM205.2 308.7l2.5 4.6h-4.9zM219.9 310.5l2.5 4.6h-4.9zM208.4 315.2l2.5 4.6h-4.9zM207.1 321.3l2.5 4.6h-4.9zM210.8 321.3l2.5 4.6h-4.9zM204.1 325.4l2.5 4.6h-4.9zM209.3 325.4l2.5 4.6h-4.9zM207.5 323.6l2.5 4.6h-4.9zM219.9 328.2l2.5 4.6h-4.9zM196.3 329.5l2.5 4.6h-4.9zM131.4 329.5l2.5 4.6h-4.9zM123.6 332.9l2.5 4.6h-4.9zM180.1 335.1l2.5 4.6h-4.9zM186.9 336.3l2.5 4.6h-4.9zM213.1 336.3l2.5 4.6h-4.9zM127.3 340.0l2.5 4.6h-4.9zM130.1 341.9l2.5 4.6h-4.9zM131.0 346.3l2.5 4.6h-4.9zM203.7 342.2l2.5 4.6h-4.9zM209.3 341.3l2.5 4.6h-4.9zM215.5 345.0l2.5 4.6h-4.9zM219.9 341.3l2.5 4.6h-4.9zM196.3 346.0l2.5 4.6h-4.9zM180.1 344.1l2.5 4.6h-4.9zM181.0 349.1l2.5 4.6h-4.9zM211.6 348.8l2.5 4.6h-4.9zM219.9 349.3l2.5 4.6h-4.9zM133.8 354.3l2.5 4.6h-4.9zM124.5 354.9l2.5 4.6h-4.9zM123.6 357.1l2.5 4.6h-4.9zM120.4 362.7l2.5 4.6h-4.9zM124.1 365.2l2.5 4.6h-4.9zM190.7 356.2l2.5 4.6h-4.9zM208.4 355.3l2.5 4.6h-4.9zM215.3 354.3l2.5 4.6h-4.9zM220.5 359.0l2.5 4.6h-4.9zM208.9 362.2l2.5 4.6h-4.9zM215.5 363.7l2.5 4.6h-4.9zM218.6 362.7l2.5 4.6h-4.9zM203.4 368.7l2.5 4.6h-4.9zM212.1 368.9l2.5 4.6h-4.9zM219.6 370.2l2.5 4.6h-4.9zM195.3 373.9l2.5 4.6h-4.9zM196.3 376.2l2.5 4.6h-4.9zM147.8 376.2l2.5 4.6h-4.9zM131.4 377.3l2.5 4.6h-4.9zM123.9 381.0l2.5 4.6h-4.9zM209.3 378.0l2.5 4.6h-4.9zM147.8 383.6l2.5 4.6h-4.9zM131.4 383.6l2.5 4.6h-4.9zM180.1 384.2l2.5 4.6h-4.9zM124.5 387.3l2.5 4.6h-4.9zM209.3 387.0l2.5 4.6h-4.9zM214.9 387.0l2.5 4.6h-4.9zM219.9 382.3l2.5 4.6h-4.9zM194.4 248.8l2.5 4.6h-4.9zM214.5 252.1l2.5 4.6h-4.9zM220.1 261.8l2.5 4.6h-4.9zM177.3 266.1l2.5 4.6h-4.9zM195.9 267.4l2.5 4.6h-4.9zM206.0 275.1l2.5 4.6h-4.9zM212.1 280.1l2.5 4.6h-4.9zM220.1 272.6l2.5 4.6h-4.9zM110.5 264.3l2.5 4.6h-4.9zM112.0 267.1l2.5 4.6h-4.9zM115.7 266.5l2.5 4.6h-4.9zM110.5 270.8l2.5 4.6h-4.9zM112.7 271.7l2.5 4.6h-4.9zM110.9 278.2l2.5 4.6h-4.9zM112.0 282.0l2.5 4.6h-4.9zM335.1 184.1l2.5 4.6h-4.9zM335.1 202.2l2.5 4.6h-4.9zM350.6 202.7l2.5 4.6h-4.9zM340.9 220.5l2.5 4.6h-4.9zM338.9 232.0l2.5 4.6h-4.9zM228.8 237.2l2.5 4.6h-4.9zM261.1 237.2l2.5 4.6h-4.9zM277.3 237.2l2.5 4.6h-4.9zM293.7 237.2l2.5 4.6h-4.9zM305.3 239.1l2.5 4.6h-4.9zM309.6 243.2l2.5 4.6h-4.9zM313.9 245.1l2.5 4.6h-4.9zM348.8 237.2l2.5 4.6h-4.9zM346.9 245.1l2.5 4.6h-4.9zM345.0 248.4l2.5 4.6h-4.9zM244.3 249.9l2.5 4.6h-4.9zM248.0 254.0l2.5 4.6h-4.9zM263.0 250.3l2.5 4.6h-4.9zM280.3 250.7l2.5 4.6h-4.9zM224.7 257.8l2.5 4.6h-4.9zM228.8 255.5l2.5 4.6h-4.9zM234.1 255.0l2.5 4.6h-4.9zM229.4 260.6l2.5 4.6h-4.9zM250.8 261.1l2.5 4.6h-4.9zM257.4 260.6l2.5 4.6h-4.9zM259.2 262.4l2.5 4.6h-4.9zM263.9 261.5l2.5 4.6h-4.9zM261.1 255.9l2.5 4.6h-4.9zM268.6 255.9l2.5 4.6h-4.9zM277.0 255.5l2.5 4.6h-4.9zM279.8 261.9l2.5 4.6h-4.9zM293.7 259.1l2.5 4.6h-4.9zM300.8 257.2l2.5 4.6h-4.9zM305.3 260.6l2.5 4.6h-4.9zM309.6 255.5l2.5 4.6h-4.9zM312.4 264.3l2.5 4.6h-4.9zM314.3 264.9l2.5 4.6h-4.9zM325.8 261.1l2.5 4.6h-4.9zM340.4 257.2l2.5 4.6h-4.9zM342.2 255.5l2.5 4.6h-4.9zM348.8 260.6l2.5 4.6h-4.9zM230.3 269.0l2.5 4.6h-4.9zM231.3 270.8l2.5 4.6h-4.9zM230.3 277.3l2.5 4.6h-4.9zM234.4 275.5l2.5 4.6h-4.9zM239.3 280.5l2.5 4.6h-4.9zM246.7 275.9l2.5 4.6h-4.9zM254.6 277.9l2.5 4.6h-4.9zM258.3 275.9l2.5 4.6h-4.9zM265.8 269.0l2.5 4.6h-4.9zM265.4 277.9l2.5 4.6h-4.9zM272.3 267.1l2.5 4.6h-4.9zM281.1 269.0l2.5 4.6h-4.9zM287.2 265.6l2.5 4.6h-4.9zM286.3 269.0l2.5 4.6h-4.9zM290.0 272.3l2.5 4.6h-4.9zM295.6 268.6l2.5 4.6h-4.9zM304.0 273.1l2.5 4.6h-4.9zM277.3 277.3l2.5 4.6h-4.9zM284.4 277.9l2.5 4.6h-4.9zM326.4 272.3l2.5 4.6h-4.9zM334.8 272.3l2.5 4.6h-4.9zM342.2 267.7l2.5 4.6h-4.9zM345.0 276.4l2.5 4.6h-4.9zM347.8 277.3l2.5 4.6h-4.9zM339.6 280.1l2.5 4.6h-4.9zM251.2 283.1l2.5 4.6h-4.9zM263.5 281.6l2.5 4.6h-4.9zM270.4 282.9l2.5 4.6h-4.9zM301.6 282.4l2.5 4.6h-4.9zM312.8 282.4l2.5 4.6h-4.9zM363.4 181.7l2.5 4.6h-4.9zM360.3 188.4l2.5 4.6h-4.9zM363.4 203.7l2.5 4.6h-4.9zM358.4 207.0l2.5 4.6h-4.9zM363.4 208.3l2.5 4.6h-4.9zM369.0 205.9l2.5 4.6h-4.9zM385.1 202.2l2.5 4.6h-4.9zM392.5 200.3l2.5 4.6h-4.9zM388.8 209.8l2.5 4.6h-4.9zM396.3 192.5l2.5 4.6h-4.9zM408.8 187.3l2.5 4.6h-4.9zM413.0 200.3l2.5 4.6h-4.9zM419.4 199.0l2.5 4.6h-4.9zM425.0 191.6l2.5 4.6h-4.9zM437.7 193.4l2.5 4.6h-4.9zM446.6 183.5l2.5 4.6h-4.9zM450.7 183.5l2.5 4.6h-4.9zM454.1 181.7l2.5 4.6h-4.9zM448.5 191.0l2.5 4.6h-4.9zM475.3 192.1l2.5 4.6h-4.9zM478.3 210.2l2.5 4.6h-4.9zM424.6 210.8l2.5 4.6h-4.9zM426.5 212.6l2.5 4.6h-4.9zM423.7 215.2l2.5 4.6h-4.9zM450.3 214.5l2.5 4.6h-4.9zM457.2 218.6l2.5 4.6h-4.9zM460.0 217.1l2.5 4.6h-4.9zM462.8 214.5l2.5 4.6h-4.9zM444.2 222.3l2.5 4.6h-4.9zM447.9 221.4l2.5 4.6h-4.9zM447.0 225.1l2.5 4.6h-4.9zM446.6 227.6l2.5 4.6h-4.9zM450.7 220.1l2.5 4.6h-4.9zM455.0 220.1l2.5 4.6h-4.9zM360.3 222.0l2.5 4.6h-4.9zM380.8 223.3l2.5 4.6h-4.9zM389.2 223.3l2.5 4.6h-4.9zM392.5 222.0l2.5 4.6h-4.9zM398.1 219.0l2.5 4.6h-4.9zM403.2 218.2l2.5 4.6h-4.9zM414.3 224.2l2.5 4.6h-4.9zM432.1 224.2l2.5 4.6h-4.9zM476.8 223.8l2.5 4.6h-4.9zM479.1 222.3l2.5 4.6h-4.9zM358.4 232.0l2.5 4.6h-4.9zM366.8 231.1l2.5 4.6h-4.9zM393.8 231.1l2.5 4.6h-4.9zM397.6 235.0l2.5 4.6h-4.9zM426.5 230.2l2.5 4.6h-4.9zM459.1 232.0l2.5 4.6h-4.9zM461.5 228.3l2.5 4.6h-4.9zM477.8 231.7l2.5 4.6h-4.9zM374.2 237.2l2.5 4.6h-4.9zM430.2 238.2l2.5 4.6h-4.9zM446.1 240.6l2.5 4.6h-4.9zM470.3 236.3l2.5 4.6h-4.9zM467.9 243.8l2.5 4.6h-4.9zM404.1 242.8l2.5 4.6h-4.9zM356.5 246.6l2.5 4.6h-4.9zM364.0 245.1l2.5 4.6h-4.9zM383.6 250.7l2.5 4.6h-4.9zM390.7 251.8l2.5 4.6h-4.9zM391.0 254.4l2.5 4.6h-4.9zM395.7 254.0l2.5 4.6h-4.9zM383.9 258.1l2.5 4.6h-4.9zM366.8 256.3l2.5 4.6h-4.9zM355.6 261.5l2.5 4.6h-4.9zM412.5 256.3l2.5 4.6h-4.9zM417.5 254.0l2.5 4.6h-4.9zM421.2 260.6l2.5 4.6h-4.9zM426.5 253.1l2.5 4.6h-4.9zM431.1 248.4l2.5 4.6h-4.9zM431.5 252.2l2.5 4.6h-4.9zM427.4 257.8l2.5 4.6h-4.9zM431.5 258.1l2.5 4.6h-4.9zM450.2 247.5l2.5 4.6h-4.9zM455.8 249.4l2.5 4.6h-4.9zM461.5 253.1l2.5 4.6h-4.9zM453.5 259.1l2.5 4.6h-4.9zM463.4 263.0l2.5 4.6h-4.9zM462.8 266.5l2.5 4.6h-4.9zM479.1 251.2l2.5 4.6h-4.9zM388.2 264.3l2.5 4.6h-4.9zM383.6 269.0l2.5 4.6h-4.9zM384.5 272.7l2.5 4.6h-4.9zM391.0 271.8l2.5 4.6h-4.9zM414.3 271.2l2.5 4.6h-4.9zM430.2 272.7l2.5 4.6h-4.9zM459.1 273.1l2.5 4.6h-4.9zM360.3 276.4l2.5 4.6h-4.9zM374.2 277.3l2.5 4.6h-4.9zM358.4 281.1l2.5 4.6h-4.9zM383.2 280.1l2.5 4.6h-4.9zM398.9 277.3l2.5 4.6h-4.9zM402.6 277.3l2.5 4.6h-4.9zM413.4 280.1l2.5 4.6h-4.9zM424.2 277.9l2.5 4.6h-4.9zM431.1 281.1l2.5 4.6h-4.9zM432.1 282.9l2.5 4.6h-4.9zM453.5 281.1l2.5 4.6h-4.9zM478.7 278.3l2.5 4.6h-4.9zM495.3 179.8l2.5 4.6h-4.9zM528.1 181.3l2.5 4.6h-4.9zM550.5 184.7l2.5 4.6h-4.9zM560.2 186.5l2.5 4.6h-4.9zM566.2 189.7l2.5 4.6h-4.9zM520.7 188.4l2.5 4.6h-4.9zM524.4 192.9l2.5 4.6h-4.9zM482.8 190.2l2.5 4.6h-4.9zM509.8 197.7l2.5 4.6h-4.9zM556.5 200.3l2.5 4.6h-4.9zM497.7 204.1l2.5 4.6h-4.9zM496.8 207.4l2.5 4.6h-4.9zM498.7 210.2l2.5 4.6h-4.9zM504.2 214.9l2.5 4.6h-4.9zM529.4 204.6l2.5 4.6h-4.9zM542.5 207.0l2.5 4.6h-4.9zM551.2 209.3l2.5 4.6h-4.9zM480.9 211.1l2.5 4.6h-4.9zM481.9 214.9l2.5 4.6h-4.9zM514.5 219.5l2.5 4.6h-4.9zM529.4 222.0l2.5 4.6h-4.9zM545.7 225.7l2.5 4.6h-4.9zM554.6 222.3l2.5 4.6h-4.9zM557.4 223.8l2.5 4.6h-4.9zM568.6 220.5l2.5 4.6h-4.9zM572.3 227.0l2.5 4.6h-4.9zM576.1 223.3l2.5 4.6h-4.9zM577.9 222.0l2.5 4.6h-4.9zM577.9 229.4l2.5 4.6h-4.9zM575.1 205.5l2.5 4.6h-4.9zM579.8 203.7l2.5 4.6h-4.9zM581.6 207.8l2.5 4.6h-4.9zM577.0 209.3l2.5 4.6h-4.9zM573.3 213.0l2.5 4.6h-4.9zM589.7 208.3l2.5 4.6h-4.9zM592.8 209.6l2.5 4.6h-4.9zM600.9 214.9l2.5 4.6h-4.9zM606.8 211.1l2.5 4.6h-4.9zM608.7 203.7l2.5 4.6h-4.9zM604.0 187.8l2.5 4.6h-4.9zM606.8 188.8l2.5 4.6h-4.9zM594.7 223.3l2.5 4.6h-4.9zM597.5 223.3l2.5 4.6h-4.9zM600.3 229.4l2.5 4.6h-4.9zM591.5 231.7l2.5 4.6h-4.9zM484.1 231.7l2.5 4.6h-4.9zM533.2 228.9l2.5 4.6h-4.9zM541.2 235.4l2.5 4.6h-4.9zM548.6 237.2l2.5 4.6h-4.9zM552.7 235.4l2.5 4.6h-4.9zM552.7 240.0l2.5 4.6h-4.9zM560.6 240.0l2.5 4.6h-4.9zM567.3 235.0l2.5 4.6h-4.9zM572.7 235.8l2.5 4.6h-4.9zM538.2 241.9l2.5 4.6h-4.9zM552.7 246.6l2.5 4.6h-4.9zM561.1 245.6l2.5 4.6h-4.9zM562.1 250.3l2.5 4.6h-4.9zM567.7 246.6l2.5 4.6h-4.9zM571.4 250.3l2.5 4.6h-4.9zM571.8 254.0l2.5 4.6h-4.9zM577.9 250.3l2.5 4.6h-4.9zM584.4 250.3l2.5 4.6h-4.9zM540.1 251.2l2.5 4.6h-4.9zM544.3 251.2l2.5 4.6h-4.9zM547.5 255.5l2.5 4.6h-4.9zM552.7 255.9l2.5 4.6h-4.9zM556.5 255.0l2.5 4.6h-4.9zM520.1 252.2l2.5 4.6h-4.9zM519.2 255.0l2.5 4.6h-4.9zM522.9 255.0l2.5 4.6h-4.9zM521.0 257.8l2.5 4.6h-4.9zM529.4 251.2l2.5 4.6h-4.9zM513.2 256.8l2.5 4.6h-4.9zM509.8 245.6l2.5 4.6h-4.9zM495.3 245.1l2.5 4.6h-4.9zM498.7 249.9l2.5 4.6h-4.9zM482.2 257.8l2.5 4.6h-4.9zM482.8 263.4l2.5 4.6h-4.9zM495.3 261.5l2.5 4.6h-4.9zM496.4 265.2l2.5 4.6h-4.9zM522.9 262.4l2.5 4.6h-4.9zM524.8 266.7l2.5 4.6h-4.9zM528.1 267.1l2.5 4.6h-4.9zM541.5 261.9l2.5 4.6h-4.9zM544.3 261.1l2.5 4.6h-4.9zM556.5 264.3l2.5 4.6h-4.9zM561.7 261.5l2.5 4.6h-4.9zM574.2 261.5l2.5 4.6h-4.9zM575.5 267.1l2.5 4.6h-4.9zM572.3 272.7l2.5 4.6h-4.9zM558.3 272.7l2.5 4.6h-4.9zM540.1 273.1l2.5 4.6h-4.9zM591.0 259.6l2.5 4.6h-4.9zM599.4 254.0l2.5 4.6h-4.9zM602.2 247.5l2.5 4.6h-4.9zM606.5 241.9l2.5 4.6h-4.9zM605.0 255.9l2.5 4.6h-4.9zM606.8 262.4l2.5 4.6h-4.9zM599.4 265.2l2.5 4.6h-4.9zM603.1 267.1l2.5 4.6h-4.9zM608.7 267.1l2.5 4.6h-4.9zM497.7 277.3l2.5 4.6h-4.9zM507.6 275.5l2.5 4.6h-4.9zM518.2 277.3l2.5 4.6h-4.9zM534.1 277.3l2.5 4.6h-4.9zM533.2 281.1l2.5 4.6h-4.9zM566.7 281.1l2.5 4.6h-4.9zM581.6 277.9l2.5 4.6h-4.9zM581.6 282.9l2.5 4.6h-4.9zM590.4 276.4l2.5 4.6h-4.9zM594.7 274.6l2.5 4.6h-4.9zM592.8 278.3l2.5 4.6h-4.9zM600.3 277.3l2.5 4.6h-4.9zM630.1 185.4l2.5 4.6h-4.9zM630.9 186.0l2.5 4.6h-4.9zM612.2 190.2l2.5 4.6h-4.9zM620.3 192.1l2.5 4.6h-4.9zM641.3 194.0l2.5 4.6h-4.9zM670.1 194.0l2.5 4.6h-4.9zM688.3 185.0l2.5 4.6h-4.9zM688.3 195.8l2.5 4.6h-4.9zM684.2 202.2l2.5 4.6h-4.9zM715.4 185.0l2.5 4.6h-4.9zM718.2 184.1l2.5 4.6h-4.9zM719.1 186.9l2.5 4.6h-4.9zM733.1 182.2l2.5 4.6h-4.9zM726.6 195.3l2.5 4.6h-4.9zM716.3 199.0l2.5 4.6h-4.9zM717.2 201.8l2.5 4.6h-4.9zM612.8 204.6l2.5 4.6h-4.9zM610.9 206.5l2.5 4.6h-4.9zM617.8 207.4l2.5 4.6h-4.9zM633.9 207.0l2.5 4.6h-4.9zM625.3 211.5l2.5 4.6h-4.9zM664.5 207.4l2.5 4.6h-4.9zM704.2 206.5l2.5 4.6h-4.9zM701.4 211.1l2.5 4.6h-4.9zM706.1 212.1l2.5 4.6h-4.9zM705.1 215.8l2.5 4.6h-4.9zM710.7 210.2l2.5 4.6h-4.9zM722.8 208.9l2.5 4.6h-4.9zM734.6 208.9l2.5 4.6h-4.9zM619.7 215.8l2.5 4.6h-4.9zM631.4 217.1l2.5 4.6h-4.9zM632.4 222.3l2.5 4.6h-4.9zM653.8 214.9l2.5 4.6h-4.9zM665.0 220.1l2.5 4.6h-4.9zM669.3 222.0l2.5 4.6h-4.9zM673.4 224.2l2.5 4.6h-4.9zM658.1 223.3l2.5 4.6h-4.9zM641.7 225.1l2.5 4.6h-4.9zM637.6 227.0l2.5 4.6h-4.9zM687.4 220.5l2.5 4.6h-4.9zM690.2 223.3l2.5 4.6h-4.9zM694.9 220.8l2.5 4.6h-4.9zM702.3 226.1l2.5 4.6h-4.9zM730.3 226.1l2.5 4.6h-4.9zM630.5 230.7l2.5 4.6h-4.9zM628.7 233.9l2.5 4.6h-4.9zM613.7 234.5l2.5 4.6h-4.9zM617.5 235.0l2.5 4.6h-4.9zM622.1 237.2l2.5 4.6h-4.9zM624.0 241.9l2.5 4.6h-4.9zM610.9 242.8l2.5 4.6h-4.9zM635.2 239.1l2.5 4.6h-4.9zM638.0 236.3l2.5 4.6h-4.9zM648.2 235.8l2.5 4.6h-4.9zM660.0 238.2l2.5 4.6h-4.9zM668.2 228.9l2.5 4.6h-4.9zM673.4 232.6l2.5 4.6h-4.9zM674.3 239.5l2.5 4.6h-4.9zM680.9 232.0l2.5 4.6h-4.9zM685.5 234.5l2.5 4.6h-4.9zM695.4 235.8l2.5 4.6h-4.9zM711.6 241.9l2.5 4.6h-4.9zM724.7 235.8l2.5 4.6h-4.9zM730.3 237.2l2.5 4.6h-4.9zM733.1 241.0l2.5 4.6h-4.9zM737.8 235.4l2.5 4.6h-4.9zM738.7 243.8l2.5 4.6h-4.9zM627.7 247.5l2.5 4.6h-4.9zM637.0 248.8l2.5 4.6h-4.9zM643.6 245.6l2.5 4.6h-4.9zM652.5 246.9l2.5 4.6h-4.9zM666.3 246.2l2.5 4.6h-4.9zM688.3 245.6l2.5 4.6h-4.9zM691.1 244.7l2.5 4.6h-4.9zM709.8 248.4l2.5 4.6h-4.9zM620.3 251.8l2.5 4.6h-4.9zM624.0 255.0l2.5 4.6h-4.9zM626.8 254.0l2.5 4.6h-4.9zM629.6 252.2l2.5 4.6h-4.9zM630.1 257.8l2.5 4.6h-4.9zM639.5 259.3l2.5 4.6h-4.9zM663.2 254.0l2.5 4.6h-4.9zM665.0 257.8l2.5 4.6h-4.9zM674.3 254.0l2.5 4.6h-4.9zM674.3 259.6l2.5 4.6h-4.9zM669.3 261.1l2.5 4.6h-4.9zM666.9 264.9l2.5 4.6h-4.9zM653.3 260.6l2.5 4.6h-4.9zM654.8 266.2l2.5 4.6h-4.9zM655.7 268.0l2.5 4.6h-4.9zM679.9 262.4l2.5 4.6h-4.9zM683.7 263.4l2.5 4.6h-4.9zM690.2 257.8l2.5 4.6h-4.9zM692.1 260.6l2.5 4.6h-4.9zM693.9 264.3l2.5 4.6h-4.9zM696.7 266.2l2.5 4.6h-4.9zM699.5 266.2l2.5 4.6h-4.9zM704.2 252.2l2.5 4.6h-4.9zM703.3 255.9l2.5 4.6h-4.9zM706.1 260.6l2.5 4.6h-4.9zM712.6 260.6l2.5 4.6h-4.9zM715.4 262.4l2.5 4.6h-4.9zM725.6 254.0l2.5 4.6h-4.9zM728.4 258.7l2.5 4.6h-4.9zM610.9 261.5l2.5 4.6h-4.9zM615.2 263.0l2.5 4.6h-4.9zM621.2 269.0l2.5 4.6h-4.9zM624.0 269.9l2.5 4.6h-4.9zM650.1 272.7l2.5 4.6h-4.9zM660.4 271.8l2.5 4.6h-4.9zM641.7 273.6l2.5 4.6h-4.9zM628.7 274.6l2.5 4.6h-4.9zM632.4 277.3l2.5 4.6h-4.9zM634.2 276.4l2.5 4.6h-4.9zM637.0 279.2l2.5 4.6h-4.9zM624.9 280.1l2.5 4.6h-4.9zM645.4 278.3l2.5 4.6h-4.9zM657.6 276.4l2.5 4.6h-4.9zM646.4 282.9l2.5 4.6h-4.9zM652.0 282.4l2.5 4.6h-4.9zM655.7 282.0l2.5 4.6h-4.9zM661.3 281.6l2.5 4.6h-4.9zM666.0 281.1l2.5 4.6h-4.9zM671.5 281.1l2.5 4.6h-4.9zM679.0 277.9l2.5 4.6h-4.9zM686.5 275.5l2.5 4.6h-4.9zM688.3 277.9l2.5 4.6h-4.9zM692.1 271.8l2.5 4.6h-4.9zM697.7 274.6l2.5 4.6h-4.9zM704.2 277.9l2.5 4.6h-4.9zM711.6 279.2l2.5 4.6h-4.9zM706.1 269.0l2.5 4.6h-4.9zM722.8 269.0l2.5 4.6h-4.9zM733.1 267.1l2.5 4.6h-4.9zM738.7 267.1l2.5 4.6h-4.9zM722.8 275.5l2.5 4.6h-4.9zM723.8 280.1l2.5 4.6h-4.9zM731.2 282.0l2.5 4.6h-4.9zM738.7 282.0l2.5 4.6h-4.9zM742.4 190.2l2.5 4.6h-4.9zM757.3 186.9l2.5 4.6h-4.9zM770.7 197.1l2.5 4.6h-4.9zM749.8 206.5l2.5 4.6h-4.9zM852.8 191.0l2.5 4.6h-4.9zM808.0 214.9l2.5 4.6h-4.9zM760.4 220.8l2.5 4.6h-4.9zM766.0 218.2l2.5 4.6h-4.9zM757.3 227.9l2.5 4.6h-4.9zM789.4 228.3l2.5 4.6h-4.9zM791.6 223.8l2.5 4.6h-4.9zM767.4 233.9l2.5 4.6h-4.9zM785.6 235.4l2.5 4.6h-4.9zM760.4 239.1l2.5 4.6h-4.9zM762.3 244.3l2.5 4.6h-4.9zM776.3 245.1l2.5 4.6h-4.9zM768.8 248.4l2.5 4.6h-4.9zM792.7 248.1l2.5 4.6h-4.9zM803.9 248.1l2.5 4.6h-4.9zM749.3 254.4l2.5 4.6h-4.9zM761.8 253.7l2.5 4.6h-4.9zM792.2 254.4l2.5 4.6h-4.9zM792.2 257.8l2.5 4.6h-4.9zM798.3 255.9l2.5 4.6h-4.9zM741.2 266.2l2.5 4.6h-4.9zM757.7 269.9l2.5 4.6h-4.9zM772.2 263.4l2.5 4.6h-4.9zM771.6 272.7l2.5 4.6h-4.9zM771.6 276.4l2.5 4.6h-4.9zM777.8 275.5l2.5 4.6h-4.9zM802.0 274.6l2.5 4.6h-4.9zM811.7 277.9l2.5 4.6h-4.9zM749.3 277.3l2.5 4.6h-4.9zM743.7 280.1l2.5 4.6h-4.9zM747.4 281.1l2.5 4.6h-4.9zM784.1 281.1l2.5 4.6h-4.9zM852.4 271.8l2.5 4.6h-4.9zM753.1 388.8l2.5 4.6h-4.9zM766.3 396.4l2.5 4.6h-4.9zM751.5 393.6l2.5 4.6h-4.9zM757.9 392.8l2.5 4.6h-4.9zM743.6 399.9l2.5 4.6h-4.9zM757.8 393.1l2.5 4.6h-4.9zM757.5 397.9l2.5 4.6h-4.9zM770.6 390.9l2.5 4.6h-4.9zM771.3 399.4l2.5 4.6h-4.9zM755.9 392.4l2.5 4.6h-4.9zM762.9 393.5l2.5 4.6h-4.9zM750.6 389.2l2.5 4.6h-4.9zM750.5 413.9l2.5 4.6h-4.9zM771.3 408.1l2.5 4.6h-4.9zM739.6 413.2l2.5 4.6h-4.9zM767.8 408.8l2.5 4.6h-4.9zM745.3 391.2l2.5 4.6h-4.9zM753.0 411.8l2.5 4.6h-4.9zM758.3 407.9l2.5 4.6h-4.9zM747.1 402.3l2.5 4.6h-4.9zM762.6 410.2l2.5 4.6h-4.9zM765.7 394.6l2.5 4.6h-4.9zM800.4 394.2l2.5 4.6h-4.9zM798.0 403.1l2.5 4.6h-4.9zM778.0 404.0l2.5 4.6h-4.9zM788.8 413.7l2.5 4.6h-4.9zM773.3 392.9l2.5 4.6h-4.9zM803.9 410.4l2.5 4.6h-4.9zM776.9 394.6l2.5 4.6h-4.9zM789.5 392.7l2.5 4.6h-4.9zM782.5 389.8l2.5 4.6h-4.9zM795.1 390.6l2.5 4.6h-4.9zM804.3 412.7l2.5 4.6h-4.9zM797.6 408.8l2.5 4.6h-4.9zM783.9 406.3l2.5 4.6h-4.9zM796.7 401.2l2.5 4.6h-4.9zM774.0 405.0l2.5 4.6h-4.9zM782.6 404.5l2.5 4.6h-4.9zM785.7 413.5l2.5 4.6h-4.9zM778.5 408.7l2.5 4.6h-4.9zM794.7 403.1l2.5 4.6h-4.9zM774.6 392.9l2.5 4.6h-4.9zM803.4 394.6l2.5 4.6h-4.9zM777.3 396.1l2.5 4.6h-4.9zM789.4 402.2l2.5 4.6h-4.9zM772.1 388.6l2.5 4.6h-4.9zM820.5 393.4l2.5 4.6h-4.9zM824.1 409.5l2.5 4.6h-4.9zM807.6 401.8l2.5 4.6h-4.9zM817.6 409.3l2.5 4.6h-4.9zM835.3 399.5l2.5 4.6h-4.9zM812.3 411.6l2.5 4.6h-4.9zM805.4 397.2l2.5 4.6h-4.9zM817.2 393.2l2.5 4.6h-4.9zM826.4 402.1l2.5 4.6h-4.9zM812.5 399.4l2.5 4.6h-4.9zM826.8 397.1l2.5 4.6h-4.9zM806.7 400.6l2.5 4.6h-4.9zM810.8 404.8l2.5 4.6h-4.9zM811.0 392.1l2.5 4.6h-4.9zM833.3 397.2l2.5 4.6h-4.9zM813.9 402.7l2.5 4.6h-4.9zM826.9 406.1l2.5 4.6h-4.9zM830.3 395.4l2.5 4.6h-4.9zM818.3 398.1l2.5 4.6h-4.9zM821.2 403.6l2.5 4.6h-4.9zM857.1 390.3l2.5 4.6h-4.9zM848.7 407.1l2.5 4.6h-4.9zM837.9 408.1l2.5 4.6h-4.9zM858.9 399.1l2.5 4.6h-4.9zM851.3 395.5l2.5 4.6h-4.9zM860.6 401.1l2.5 4.6h-4.9zM845.3 389.3l2.5 4.6h-4.9zM847.9 412.7l2.5 4.6h-4.9zM858.6 404.9l2.5 4.6h-4.9zM866.9 389.4l2.5 4.6h-4.9zM856.2 393.5l2.5 4.6h-4.9zM849.6 393.3l2.5 4.6h-4.9zM750.9 438.4l2.5 4.6h-4.9zM763.1 436.9l2.5 4.6h-4.9zM742.0 422.6l2.5 4.6h-4.9zM765.0 415.8l2.5 4.6h-4.9zM745.7 416.9l2.5 4.6h-4.9zM766.1 420.8l2.5 4.6h-4.9zM753.3 415.1l2.5 4.6h-4.9zM743.2 428.2l2.5 4.6h-4.9zM765.2 423.7l2.5 4.6h-4.9zM749.9 415.8l2.5 4.6h-4.9zM742.8 418.7l2.5 4.6h-4.9zM746.2 429.7l2.5 4.6h-4.9zM751.2 440.4l2.5 4.6h-4.9zM748.7 437.2l2.5 4.6h-4.9zM742.5 428.6l2.5 4.6h-4.9zM757.4 432.0l2.5 4.6h-4.9zM752.8 428.5l2.5 4.6h-4.9zM764.8 418.7l2.5 4.6h-4.9zM756.8 430.2l2.5 4.6h-4.9zM797.4 419.0l2.5 4.6h-4.9zM785.5 415.4l2.5 4.6h-4.9zM793.5 437.5l2.5 4.6h-4.9zM783.5 436.2l2.5 4.6h-4.9zM793.4 415.2l2.5 4.6h-4.9zM787.3 416.0l2.5 4.6h-4.9zM782.2 435.7l2.5 4.6h-4.9zM776.1 429.6l2.5 4.6h-4.9zM773.8 417.6l2.5 4.6h-4.9zM802.9 417.3l2.5 4.6h-4.9zM777.7 439.4l2.5 4.6h-4.9zM782.0 420.4l2.5 4.6h-4.9zM775.1 427.8l2.5 4.6h-4.9zM806.4 420.5l2.5 4.6h-4.9zM811.6 434.3l2.5 4.6h-4.9zM809.7 430.2l2.5 4.6h-4.9zM812.3 440.8l2.5 4.6h-4.9zM836.5 439.0l2.5 4.6h-4.9zM833.5 429.3l2.5 4.6h-4.9zM834.5 431.5l2.5 4.6h-4.9zM809.6 434.0l2.5 4.6h-4.9zM831.9 415.1l2.5 4.6h-4.9zM810.8 435.3l2.5 4.6h-4.9zM829.3 429.5l2.5 4.6h-4.9zM808.4 421.7l2.5 4.6h-4.9zM812.1 440.5l2.5 4.6h-4.9zM811.8 424.5l2.5 4.6h-4.9zM859.0 432.1l2.5 4.6h-4.9zM854.9 431.8l2.5 4.6h-4.9zM864.7 438.7l2.5 4.6h-4.9zM840.3 415.5l2.5 4.6h-4.9zM866.3 438.6l2.5 4.6h-4.9zM848.6 425.2l2.5 4.6h-4.9zM858.9 425.8l2.5 4.6h-4.9zM840.3 421.3l2.5 4.6h-4.9zM846.6 429.6l2.5 4.6h-4.9zM842.3 433.9l2.5 4.6h-4.9zM771.0 451.1l2.5 4.6h-4.9zM758.0 457.6l2.5 4.6h-4.9zM765.4 457.5l2.5 4.6h-4.9zM756.3 459.9l2.5 4.6h-4.9zM740.3 465.6l2.5 4.6h-4.9zM768.7 459.2l2.5 4.6h-4.9zM746.1 457.4l2.5 4.6h-4.9zM740.4 451.4l2.5 4.6h-4.9zM746.5 455.7l2.5 4.6h-4.9zM747.7 443.4l2.5 4.6h-4.9zM765.3 447.6l2.5 4.6h-4.9zM757.7 441.4l2.5 4.6h-4.9zM757.8 461.7l2.5 4.6h-4.9zM765.0 449.6l2.5 4.6h-4.9zM776.2 456.9l2.5 4.6h-4.9zM782.0 448.5l2.5 4.6h-4.9zM778.8 451.3l2.5 4.6h-4.9zM794.2 451.5l2.5 4.6h-4.9zM793.0 460.0l2.5 4.6h-4.9zM798.3 455.9l2.5 4.6h-4.9zM804.2 454.1l2.5 4.6h-4.9zM789.4 458.2l2.5 4.6h-4.9zM803.5 459.4l2.5 4.6h-4.9zM801.8 445.1l2.5 4.6h-4.9zM785.7 459.4l2.5 4.6h-4.9zM795.8 462.7l2.5 4.6h-4.9zM780.6 449.2l2.5 4.6h-4.9zM785.4 451.3l2.5 4.6h-4.9zM775.0 451.2l2.5 4.6h-4.9zM792.9 460.4l2.5 4.6h-4.9zM779.5 457.2l2.5 4.6h-4.9zM828.7 445.0l2.5 4.6h-4.9zM804.9 445.2l2.5 4.6h-4.9zM826.4 464.9l2.5 4.6h-4.9zM817.0 449.1l2.5 4.6h-4.9zM824.7 449.3l2.5 4.6h-4.9zM805.7 447.4l2.5 4.6h-4.9zM823.9 453.0l2.5 4.6h-4.9zM815.7 451.2l2.5 4.6h-4.9zM808.9 461.1l2.5 4.6h-4.9zM816.6 459.1l2.5 4.6h-4.9zM822.8 464.6l2.5 4.6h-4.9zM830.2 444.4l2.5 4.6h-4.9zM819.1 441.3l2.5 4.6h-4.9zM828.9 447.0l2.5 4.6h-4.9zM836.0 446.9l2.5 4.6h-4.9zM820.9 453.9l2.5 4.6h-4.9zM831.2 456.6l2.5 4.6h-4.9zM832.9 449.3l2.5 4.6h-4.9zM807.6 445.8l2.5 4.6h-4.9zM806.0 459.5l2.5 4.6h-4.9zM858.9 460.7l2.5 4.6h-4.9zM862.0 444.2l2.5 4.6h-4.9zM838.8 458.2l2.5 4.6h-4.9zM836.8 449.8l2.5 4.6h-4.9zM855.7 458.1l2.5 4.6h-4.9zM856.6 465.9l2.5 4.6h-4.9zM868.2 449.1l2.5 4.6h-4.9zM846.9 441.5l2.5 4.6h-4.9zM840.7 452.5l2.5 4.6h-4.9zM857.5 447.1l2.5 4.6h-4.9zM840.0 458.9l2.5 4.6h-4.9zM858.5 454.1l2.5 4.6h-4.9zM841.3 446.1l2.5 4.6h-4.9zM845.4 463.3l2.5 4.6h-4.9zM769.6 468.3l2.5 4.6h-4.9zM769.9 488.5l2.5 4.6h-4.9zM765.3 472.6l2.5 4.6h-4.9zM770.9 486.1l2.5 4.6h-4.9zM744.0 468.0l2.5 4.6h-4.9zM751.8 480.7l2.5 4.6h-4.9zM740.3 489.5l2.5 4.6h-4.9zM761.4 479.2l2.5 4.6h-4.9zM755.5 469.6l2.5 4.6h-4.9zM763.8 484.5l2.5 4.6h-4.9zM740.2 486.0l2.5 4.6h-4.9zM751.0 489.0l2.5 4.6h-4.9zM750.6 472.1l2.5 4.6h-4.9zM745.9 474.9l2.5 4.6h-4.9zM741.8 471.0l2.5 4.6h-4.9zM754.9 480.1l2.5 4.6h-4.9zM757.6 470.3l2.5 4.6h-4.9zM740.3 470.6l2.5 4.6h-4.9zM768.7 470.4l2.5 4.6h-4.9zM761.7 480.2l2.5 4.6h-4.9zM759.0 489.1l2.5 4.6h-4.9zM780.3 483.6l2.5 4.6h-4.9zM788.8 475.8l2.5 4.6h-4.9zM785.0 471.9l2.5 4.6h-4.9zM775.3 488.7l2.5 4.6h-4.9zM792.8 471.1l2.5 4.6h-4.9zM798.1 471.5l2.5 4.6h-4.9zM793.5 480.9l2.5 4.6h-4.9zM797.9 476.8l2.5 4.6h-4.9zM803.0 484.0l2.5 4.6h-4.9zM786.6 470.0l2.5 4.6h-4.9zM780.4 470.3l2.5 4.6h-4.9zM788.9 486.0l2.5 4.6h-4.9zM796.1 482.1l2.5 4.6h-4.9zM785.9 473.7l2.5 4.6h-4.9zM798.1 482.9l2.5 4.6h-4.9zM793.5 480.2l2.5 4.6h-4.9zM797.7 480.9l2.5 4.6h-4.9zM780.5 475.9l2.5 4.6h-4.9zM782.1 474.0l2.5 4.6h-4.9zM801.2 483.8l2.5 4.6h-4.9zM791.9 477.7l2.5 4.6h-4.9zM787.8 469.6l2.5 4.6h-4.9zM787.4 480.9l2.5 4.6h-4.9zM783.4 479.0l2.5 4.6h-4.9zM804.5 488.5l2.5 4.6h-4.9zM774.5 489.3l2.5 4.6h-4.9zM797.8 486.2l2.5 4.6h-4.9zM798.1 472.1l2.5 4.6h-4.9zM776.3 482.2l2.5 4.6h-4.9zM798.9 469.6l2.5 4.6h-4.9zM804.9 489.3l2.5 4.6h-4.9zM833.9 473.3l2.5 4.6h-4.9zM831.2 474.2l2.5 4.6h-4.9zM831.6 467.5l2.5 4.6h-4.9zM824.1 472.4l2.5 4.6h-4.9zM825.0 467.8l2.5 4.6h-4.9zM825.4 469.5l2.5 4.6h-4.9zM818.8 468.8l2.5 4.6h-4.9zM816.9 470.8l2.5 4.6h-4.9zM815.1 478.1l2.5 4.6h-4.9zM825.8 482.0l2.5 4.6h-4.9zM821.4 487.1l2.5 4.6h-4.9zM817.7 470.5l2.5 4.6h-4.9zM826.6 475.5l2.5 4.6h-4.9zM834.7 476.3l2.5 4.6h-4.9zM804.9 475.2l2.5 4.6h-4.9zM835.5 478.3l2.5 4.6h-4.9zM831.0 475.8l2.5 4.6h-4.9zM824.1 469.0l2.5 4.6h-4.9zM811.0 469.6l2.5 4.6h-4.9zM817.5 474.7l2.5 4.6h-4.9zM822.5 482.3l2.5 4.6h-4.9zM812.2 473.4l2.5 4.6h-4.9zM805.3 470.0l2.5 4.6h-4.9zM816.8 488.2l2.5 4.6h-4.9zM810.6 476.7l2.5 4.6h-4.9zM804.9 480.9l2.5 4.6h-4.9zM850.3 474.9l2.5 4.6h-4.9zM849.3 473.6l2.5 4.6h-4.9zM849.9 471.5l2.5 4.6h-4.9zM859.8 489.0l2.5 4.6h-4.9zM866.0 475.7l2.5 4.6h-4.9zM837.1 485.1l2.5 4.6h-4.9zM851.7 479.9l2.5 4.6h-4.9zM857.9 486.1l2.5 4.6h-4.9zM853.5 477.3l2.5 4.6h-4.9zM841.0 468.2l2.5 4.6h-4.9zM842.1 470.8l2.5 4.6h-4.9zM867.1 480.4l2.5 4.6h-4.9zM837.6 474.6l2.5 4.6h-4.9zM850.1 486.7l2.5 4.6h-4.9zM850.1 480.0l2.5 4.6h-4.9zM845.3 474.7l2.5 4.6h-4.9zM839.3 485.5l2.5 4.6h-4.9zM852.6 484.3l2.5 4.6h-4.9zM855.2 469.3l2.5 4.6h-4.9zM845.4 474.7l2.5 4.6h-4.9zM862.0 475.3l2.5 4.6h-4.9zM867.9 485.8l2.5 4.6h-4.9zM243.6 297.5l2.5 4.6h-4.9zM243.7 292.4l2.5 4.6h-4.9zM224.5 306.1l2.5 4.6h-4.9zM236.1 308.7l2.5 4.6h-4.9zM244.9 298.6l2.5 4.6h-4.9zM235.0 301.5l2.5 4.6h-4.9zM229.1 292.8l2.5 4.6h-4.9zM231.6 305.0l2.5 4.6h-4.9zM252.0 286.1l2.5 4.6h-4.9zM222.0 292.8l2.5 4.6h-4.9zM243.3 295.0l2.5 4.6h-4.9zM245.9 309.0l2.5 4.6h-4.9zM242.8 301.0l2.5 4.6h-4.9zM225.8 298.9l2.5 4.6h-4.9zM241.6 288.6l2.5 4.6h-4.9zM222.0 301.3l2.5 4.6h-4.9zM253.4 300.5l2.5 4.6h-4.9zM260.1 306.4l2.5 4.6h-4.9zM263.9 292.5l2.5 4.6h-4.9zM279.9 304.4l2.5 4.6h-4.9zM283.7 306.8l2.5 4.6h-4.9zM253.7 289.5l2.5 4.6h-4.9zM272.4 289.6l2.5 4.6h-4.9zM281.1 302.9l2.5 4.6h-4.9zM278.0 308.3l2.5 4.6h-4.9zM276.5 308.8l2.5 4.6h-4.9zM268.7 287.1l2.5 4.6h-4.9zM270.3 308.4l2.5 4.6h-4.9zM273.5 292.0l2.5 4.6h-4.9zM256.8 287.0l2.5 4.6h-4.9zM257.6 302.2l2.5 4.6h-4.9zM264.2 294.9l2.5 4.6h-4.9zM285.1 292.2l2.5 4.6h-4.9zM274.7 292.7l2.5 4.6h-4.9zM266.1 294.7l2.5 4.6h-4.9zM300.3 286.6l2.5 4.6h-4.9zM306.7 298.1l2.5 4.6h-4.9zM289.5 309.1l2.5 4.6h-4.9zM317.9 290.7l2.5 4.6h-4.9zM297.0 304.0l2.5 4.6h-4.9zM302.3 298.4l2.5 4.6h-4.9zM310.7 303.3l2.5 4.6h-4.9zM294.5 296.3l2.5 4.6h-4.9zM312.2 306.7l2.5 4.6h-4.9zM314.0 304.5l2.5 4.6h-4.9zM307.3 284.2l2.5 4.6h-4.9zM297.8 302.1l2.5 4.6h-4.9zM293.8 285.2l2.5 4.6h-4.9zM305.2 303.7l2.5 4.6h-4.9zM318.2 302.6l2.5 4.6h-4.9zM300.5 284.3l2.5 4.6h-4.9zM308.0 307.0l2.5 4.6h-4.9zM302.7 298.3l2.5 4.6h-4.9zM321.4 291.9l2.5 4.6h-4.9zM337.6 304.6l2.5 4.6h-4.9zM328.9 305.4l2.5 4.6h-4.9zM337.4 298.1l2.5 4.6h-4.9zM324.9 301.8l2.5 4.6h-4.9zM322.8 294.6l2.5 4.6h-4.9zM347.1 306.3l2.5 4.6h-4.9zM349.0 288.6l2.5 4.6h-4.9zM347.7 295.8l2.5 4.6h-4.9zM323.7 307.1l2.5 4.6h-4.9zM349.2 309.1l2.5 4.6h-4.9zM330.0 289.4l2.5 4.6h-4.9zM348.4 302.2l2.5 4.6h-4.9zM348.4 302.7l2.5 4.6h-4.9zM350.3 302.7l2.5 4.6h-4.9zM247.8 334.1l2.5 4.6h-4.9zM235.1 334.0l2.5 4.6h-4.9zM234.6 335.1l2.5 4.6h-4.9zM238.8 326.6l2.5 4.6h-4.9zM221.5 318.7l2.5 4.6h-4.9zM230.1 310.1l2.5 4.6h-4.9zM231.3 316.6l2.5 4.6h-4.9zM224.7 316.5l2.5 4.6h-4.9zM249.1 315.5l2.5 4.6h-4.9zM243.9 335.9l2.5 4.6h-4.9zM221.5 328.5l2.5 4.6h-4.9zM225.5 314.7l2.5 4.6h-4.9zM231.2 333.9l2.5 4.6h-4.9zM249.6 312.2l2.5 4.6h-4.9zM246.8 312.0l2.5 4.6h-4.9zM232.8 336.1l2.5 4.6h-4.9zM249.7 312.7l2.5 4.6h-4.9zM239.6 320.9l2.5 4.6h-4.9zM275.4 332.4l2.5 4.6h-4.9zM271.6 334.3l2.5 4.6h-4.9zM282.6 314.1l2.5 4.6h-4.9zM255.5 315.0l2.5 4.6h-4.9zM270.0 328.1l2.5 4.6h-4.9zM281.2 329.0l2.5 4.6h-4.9zM274.8 325.6l2.5 4.6h-4.9zM274.7 320.3l2.5 4.6h-4.9zM275.0 331.8l2.5 4.6h-4.9zM281.3 328.7l2.5 4.6h-4.9zM275.4 311.7l2.5 4.6h-4.9zM264.2 321.8l2.5 4.6h-4.9zM263.5 315.0l2.5 4.6h-4.9zM265.7 331.7l2.5 4.6h-4.9zM262.3 334.4l2.5 4.6h-4.9zM286.1 320.9l2.5 4.6h-4.9zM309.3 329.6l2.5 4.6h-4.9zM286.3 312.8l2.5 4.6h-4.9zM288.2 324.7l2.5 4.6h-4.9zM289.0 320.2l2.5 4.6h-4.9zM295.1 312.5l2.5 4.6h-4.9zM298.1 321.2l2.5 4.6h-4.9zM304.7 318.9l2.5 4.6h-4.9zM288.1 318.4l2.5 4.6h-4.9zM308.4 309.9l2.5 4.6h-4.9zM302.8 310.3l2.5 4.6h-4.9zM314.0 315.0l2.5 4.6h-4.9zM303.2 312.2l2.5 4.6h-4.9zM303.7 330.6l2.5 4.6h-4.9zM315.6 330.6l2.5 4.6h-4.9zM314.9 310.0l2.5 4.6h-4.9zM312.1 311.1l2.5 4.6h-4.9zM346.6 336.0l2.5 4.6h-4.9zM341.7 325.7l2.5 4.6h-4.9zM342.2 312.1l2.5 4.6h-4.9zM346.4 312.1l2.5 4.6h-4.9zM326.1 316.9l2.5 4.6h-4.9zM340.7 320.1l2.5 4.6h-4.9zM330.9 323.0l2.5 4.6h-4.9zM342.8 331.9l2.5 4.6h-4.9zM345.8 317.2l2.5 4.6h-4.9zM320.1 312.3l2.5 4.6h-4.9zM322.1 329.4l2.5 4.6h-4.9zM321.1 329.7l2.5 4.6h-4.9zM318.4 327.9l2.5 4.6h-4.9zM326.4 326.8l2.5 4.6h-4.9zM343.0 327.0l2.5 4.6h-4.9zM320.8 310.3l2.5 4.6h-4.9zM233.6 359.8l2.5 4.6h-4.9zM236.3 343.0l2.5 4.6h-4.9zM236.5 357.5l2.5 4.6h-4.9zM227.9 339.3l2.5 4.6h-4.9zM251.0 347.2l2.5 4.6h-4.9zM235.6 344.2l2.5 4.6h-4.9zM229.1 358.6l2.5 4.6h-4.9zM247.2 342.7l2.5 4.6h-4.9zM244.7 360.1l2.5 4.6h-4.9zM234.7 361.7l2.5 4.6h-4.9zM224.1 358.0l2.5 4.6h-4.9zM248.8 342.7l2.5 4.6h-4.9zM230.2 343.2l2.5 4.6h-4.9zM225.6 357.3l2.5 4.6h-4.9zM243.9 356.7l2.5 4.6h-4.9zM242.0 342.9l2.5 4.6h-4.9zM224.0 342.8l2.5 4.6h-4.9zM246.8 336.6l2.5 4.6h-4.9zM238.5 344.5l2.5 4.6h-4.9zM230.5 344.8l2.5 4.6h-4.9zM240.4 340.5l2.5 4.6h-4.9zM226.3 358.3l2.5 4.6h-4.9zM245.7 345.5l2.5 4.6h-4.9zM229.3 351.4l2.5 4.6h-4.9zM251.4 356.7l2.5 4.6h-4.9zM235.6 352.7l2.5 4.6h-4.9zM265.2 354.6l2.5 4.6h-4.9zM270.4 336.8l2.5 4.6h-4.9zM275.4 358.9l2.5 4.6h-4.9zM269.3 340.3l2.5 4.6h-4.9zM263.4 341.1l2.5 4.6h-4.9zM280.7 355.3l2.5 4.6h-4.9zM263.2 344.0l2.5 4.6h-4.9zM257.7 347.6l2.5 4.6h-4.9zM285.1 355.9l2.5 4.6h-4.9zM283.8 338.0l2.5 4.6h-4.9zM283.5 359.9l2.5 4.6h-4.9zM279.8 339.4l2.5 4.6h-4.9zM281.7 361.6l2.5 4.6h-4.9zM277.5 349.5l2.5 4.6h-4.9zM264.7 359.0l2.5 4.6h-4.9zM273.0 344.5l2.5 4.6h-4.9zM256.3 336.5l2.5 4.6h-4.9zM276.3 343.8l2.5 4.6h-4.9zM257.9 344.1l2.5 4.6h-4.9zM268.5 358.2l2.5 4.6h-4.9zM268.9 339.5l2.5 4.6h-4.9zM280.4 353.7l2.5 4.6h-4.9zM271.3 359.6l2.5 4.6h-4.9zM266.7 346.2l2.5 4.6h-4.9zM287.7 354.3l2.5 4.6h-4.9zM306.1 360.8l2.5 4.6h-4.9zM286.2 346.9l2.5 4.6h-4.9zM300.1 346.9l2.5 4.6h-4.9zM287.3 357.4l2.5 4.6h-4.9zM287.3 352.8l2.5 4.6h-4.9zM296.0 347.2l2.5 4.6h-4.9zM313.1 341.4l2.5 4.6h-4.9zM302.5 343.1l2.5 4.6h-4.9zM305.7 350.3l2.5 4.6h-4.9zM307.6 338.6l2.5 4.6h-4.9zM306.4 353.4l2.5 4.6h-4.9zM288.1 361.4l2.5 4.6h-4.9zM313.5 356.8l2.5 4.6h-4.9zM311.4 349.2l2.5 4.6h-4.9zM315.6 340.1l2.5 4.6h-4.9zM310.0 361.6l2.5 4.6h-4.9zM287.9 353.0l2.5 4.6h-4.9zM317.5 339.8l2.5 4.6h-4.9zM304.1 359.5l2.5 4.6h-4.9zM294.5 341.6l2.5 4.6h-4.9zM309.2 356.8l2.5 4.6h-4.9zM316.5 353.1l2.5 4.6h-4.9zM287.7 357.5l2.5 4.6h-4.9zM295.2 350.8l2.5 4.6h-4.9zM309.3 361.6l2.5 4.6h-4.9zM336.3 339.9l2.5 4.6h-4.9zM335.0 350.6l2.5 4.6h-4.9zM342.8 341.1l2.5 4.6h-4.9zM336.3 337.4l2.5 4.6h-4.9zM350.3 336.7l2.5 4.6h-4.9zM335.9 340.7l2.5 4.6h-4.9zM327.3 346.6l2.5 4.6h-4.9zM326.6 342.9l2.5 4.6h-4.9zM328.4 349.1l2.5 4.6h-4.9zM349.4 341.6l2.5 4.6h-4.9zM324.0 337.2l2.5 4.6h-4.9zM348.1 356.5l2.5 4.6h-4.9zM345.3 340.0l2.5 4.6h-4.9zM332.7 353.6l2.5 4.6h-4.9zM335.6 355.2l2.5 4.6h-4.9zM324.7 359.7l2.5 4.6h-4.9zM337.6 352.1l2.5 4.6h-4.9zM337.4 347.7l2.5 4.6h-4.9zM318.8 340.4l2.5 4.6h-4.9zM334.0 338.2l2.5 4.6h-4.9zM337.7 341.1l2.5 4.6h-4.9zM340.6 346.7l2.5 4.6h-4.9zM339.7 342.9l2.5 4.6h-4.9zM322.4 353.4l2.5 4.6h-4.9zM345.2 341.6l2.5 4.6h-4.9zM319.5 358.8l2.5 4.6h-4.9zM245.6 382.4l2.5 4.6h-4.9zM246.8 373.2l2.5 4.6h-4.9zM252.1 383.4l2.5 4.6h-4.9zM245.7 386.9l2.5 4.6h-4.9zM250.7 377.1l2.5 4.6h-4.9zM223.0 377.7l2.5 4.6h-4.9zM237.3 362.7l2.5 4.6h-4.9zM231.4 383.8l2.5 4.6h-4.9zM241.5 386.7l2.5 4.6h-4.9zM245.7 367.1l2.5 4.6h-4.9zM244.3 363.4l2.5 4.6h-4.9zM249.4 369.9l2.5 4.6h-4.9zM252.7 363.5l2.5 4.6h-4.9zM245.3 364.9l2.5 4.6h-4.9zM249.2 383.7l2.5 4.6h-4.9zM237.8 377.0l2.5 4.6h-4.9zM228.3 371.8l2.5 4.6h-4.9zM226.0 372.6l2.5 4.6h-4.9zM225.7 378.9l2.5 4.6h-4.9zM237.2 371.6l2.5 4.6h-4.9zM232.4 387.2l2.5 4.6h-4.9zM251.9 388.0l2.5 4.6h-4.9zM265.3 364.4l2.5 4.6h-4.9zM258.9 384.8l2.5 4.6h-4.9zM265.0 366.1l2.5 4.6h-4.9zM284.5 368.1l2.5 4.6h-4.9zM271.7 373.1l2.5 4.6h-4.9zM258.1 372.0l2.5 4.6h-4.9zM279.1 376.5l2.5 4.6h-4.9zM281.3 362.6l2.5 4.6h-4.9zM257.1 373.6l2.5 4.6h-4.9zM274.4 373.0l2.5 4.6h-4.9zM262.5 383.6l2.5 4.6h-4.9zM281.2 379.3l2.5 4.6h-4.9zM257.9 381.7l2.5 4.6h-4.9zM273.2 381.5l2.5 4.6h-4.9zM277.4 377.0l2.5 4.6h-4.9zM266.0 384.2l2.5 4.6h-4.9zM315.9 387.2l2.5 4.6h-4.9zM295.8 367.8l2.5 4.6h-4.9zM292.2 380.1l2.5 4.6h-4.9zM317.2 368.5l2.5 4.6h-4.9zM300.5 376.5l2.5 4.6h-4.9zM299.4 376.6l2.5 4.6h-4.9zM297.9 377.6l2.5 4.6h-4.9zM317.6 382.3l2.5 4.6h-4.9zM317.2 373.3l2.5 4.6h-4.9zM290.8 367.5l2.5 4.6h-4.9zM293.4 382.5l2.5 4.6h-4.9zM293.1 377.0l2.5 4.6h-4.9zM316.0 373.3l2.5 4.6h-4.9zM293.6 385.5l2.5 4.6h-4.9zM317.7 364.0l2.5 4.6h-4.9zM312.6 387.8l2.5 4.6h-4.9zM295.5 371.6l2.5 4.6h-4.9zM292.1 367.9l2.5 4.6h-4.9zM310.9 373.8l2.5 4.6h-4.9zM295.9 371.8l2.5 4.6h-4.9zM315.4 388.4l2.5 4.6h-4.9zM296.3 369.2l2.5 4.6h-4.9zM294.6 382.8l2.5 4.6h-4.9zM315.4 367.3l2.5 4.6h-4.9zM321.8 371.0l2.5 4.6h-4.9zM345.3 384.5l2.5 4.6h-4.9zM349.2 373.3l2.5 4.6h-4.9zM319.8 363.4l2.5 4.6h-4.9zM344.5 372.1l2.5 4.6h-4.9zM323.9 369.6l2.5 4.6h-4.9zM321.6 386.3l2.5 4.6h-4.9zM332.3 375.5l2.5 4.6h-4.9zM324.8 376.0l2.5 4.6h-4.9zM326.6 386.9l2.5 4.6h-4.9zM346.4 381.1l2.5 4.6h-4.9zM336.7 381.4l2.5 4.6h-4.9zM321.1 371.7l2.5 4.6h-4.9zM347.0 383.0l2.5 4.6h-4.9zM328.6 372.3l2.5 4.6h-4.9zM322.9 362.2l2.5 4.6h-4.9zM349.2 367.1l2.5 4.6h-4.9zM344.4 366.9l2.5 4.6h-4.9zM333.1 376.5l2.5 4.6h-4.9zM324.4 369.6l2.5 4.6h-4.9zM322.9 362.3l2.5 4.6h-4.9zM330.3 384.3l2.5 4.6h-4.9zM325.5 373.6l2.5 4.6h-4.9zM331.1 375.8l2.5 4.6h-4.9zM325.3 363.5l2.5 4.6h-4.9zM329.1 388.0l2.5 4.6h-4.9zM628.8 295.4l2.5 4.6h-4.9zM619.6 302.3l2.5 4.6h-4.9zM614.8 299.6l2.5 4.6h-4.9zM626.2 285.3l2.5 4.6h-4.9zM626.3 292.4l2.5 4.6h-4.9zM610.3 295.3l2.5 4.6h-4.9zM616.6 286.3l2.5 4.6h-4.9zM632.3 298.1l2.5 4.6h-4.9zM622.7 302.0l2.5 4.6h-4.9zM638.5 293.1l2.5 4.6h-4.9zM627.1 306.9l2.5 4.6h-4.9zM618.6 295.4l2.5 4.6h-4.9zM625.8 293.0l2.5 4.6h-4.9zM628.2 304.2l2.5 4.6h-4.9zM638.3 294.4l2.5 4.6h-4.9zM619.2 303.7l2.5 4.6h-4.9zM632.8 290.7l2.5 4.6h-4.9zM624.4 290.0l2.5 4.6h-4.9zM627.0 289.0l2.5 4.6h-4.9zM612.3 290.5l2.5 4.6h-4.9zM612.8 291.4l2.5 4.6h-4.9zM620.7 291.7l2.5 4.6h-4.9zM672.4 303.6l2.5 4.6h-4.9zM650.9 307.3l2.5 4.6h-4.9zM658.0 283.9l2.5 4.6h-4.9zM657.6 285.7l2.5 4.6h-4.9zM651.3 308.8l2.5 4.6h-4.9zM659.6 309.4l2.5 4.6h-4.9zM656.7 292.3l2.5 4.6h-4.9zM649.9 290.0l2.5 4.6h-4.9zM667.3 299.0l2.5 4.6h-4.9zM670.2 296.1l2.5 4.6h-4.9zM670.5 307.2l2.5 4.6h-4.9zM644.8 301.1l2.5 4.6h-4.9zM644.9 292.8l2.5 4.6h-4.9zM646.6 300.1l2.5 4.6h-4.9zM646.5 285.8l2.5 4.6h-4.9zM666.2 301.3l2.5 4.6h-4.9zM669.8 307.4l2.5 4.6h-4.9zM665.5 305.3l2.5 4.6h-4.9zM651.8 295.5l2.5 4.6h-4.9zM660.0 294.0l2.5 4.6h-4.9zM657.4 296.2l2.5 4.6h-4.9zM659.1 284.5l2.5 4.6h-4.9zM679.5 303.8l2.5 4.6h-4.9zM702.8 288.9l2.5 4.6h-4.9zM678.4 289.6l2.5 4.6h-4.9zM703.2 295.2l2.5 4.6h-4.9zM706.5 296.6l2.5 4.6h-4.9zM678.5 303.6l2.5 4.6h-4.9zM678.6 301.8l2.5 4.6h-4.9zM707.0 303.1l2.5 4.6h-4.9zM701.1 294.7l2.5 4.6h-4.9zM676.7 289.4l2.5 4.6h-4.9zM702.6 304.2l2.5 4.6h-4.9zM693.4 288.8l2.5 4.6h-4.9zM690.2 305.0l2.5 4.6h-4.9zM678.3 307.2l2.5 4.6h-4.9zM677.3 302.5l2.5 4.6h-4.9zM675.3 306.0l2.5 4.6h-4.9zM684.9 298.0l2.5 4.6h-4.9zM676.1 301.0l2.5 4.6h-4.9zM707.1 291.4l2.5 4.6h-4.9zM701.9 287.5l2.5 4.6h-4.9zM675.9 301.0l2.5 4.6h-4.9zM683.5 302.3l2.5 4.6h-4.9zM676.8 287.0l2.5 4.6h-4.9zM685.0 297.1l2.5 4.6h-4.9zM715.0 286.8l2.5 4.6h-4.9zM710.8 293.1l2.5 4.6h-4.9zM709.2 297.7l2.5 4.6h-4.9zM708.1 297.2l2.5 4.6h-4.9zM717.5 284.5l2.5 4.6h-4.9zM707.9 298.8l2.5 4.6h-4.9zM730.3 288.2l2.5 4.6h-4.9zM725.7 285.7l2.5 4.6h-4.9zM722.3 305.0l2.5 4.6h-4.9zM713.3 295.7l2.5 4.6h-4.9zM736.5 290.5l2.5 4.6h-4.9zM732.6 285.5l2.5 4.6h-4.9zM716.1 303.9l2.5 4.6h-4.9zM735.3 291.1l2.5 4.6h-4.9zM720.5 292.2l2.5 4.6h-4.9zM713.4 292.2l2.5 4.6h-4.9zM734.4 298.6l2.5 4.6h-4.9zM734.6 298.5l2.5 4.6h-4.9zM729.2 298.1l2.5 4.6h-4.9zM714.1 296.4l2.5 4.6h-4.9zM718.4 289.5l2.5 4.6h-4.9zM717.4 307.7l2.5 4.6h-4.9zM738.4 309.0l2.5 4.6h-4.9zM724.9 290.7l2.5 4.6h-4.9zM621.8 317.6l2.5 4.6h-4.9zM641.2 332.5l2.5 4.6h-4.9zM635.6 323.5l2.5 4.6h-4.9zM625.7 329.1l2.5 4.6h-4.9zM638.9 328.6l2.5 4.6h-4.9zM640.7 325.7l2.5 4.6h-4.9zM637.2 325.7l2.5 4.6h-4.9zM627.8 331.4l2.5 4.6h-4.9zM624.5 332.0l2.5 4.6h-4.9zM618.4 335.4l2.5 4.6h-4.9zM633.7 314.9l2.5 4.6h-4.9zM632.2 317.4l2.5 4.6h-4.9zM613.1 313.3l2.5 4.6h-4.9zM624.1 334.7l2.5 4.6h-4.9zM617.7 324.1l2.5 4.6h-4.9zM624.3 314.3l2.5 4.6h-4.9zM632.6 317.8l2.5 4.6h-4.9zM611.5 332.1l2.5 4.6h-4.9zM634.7 311.0l2.5 4.6h-4.9zM657.0 318.2l2.5 4.6h-4.9zM663.6 318.0l2.5 4.6h-4.9zM665.0 311.0l2.5 4.6h-4.9zM671.7 326.8l2.5 4.6h-4.9zM655.3 331.3l2.5 4.6h-4.9zM666.3 318.0l2.5 4.6h-4.9zM645.4 326.6l2.5 4.6h-4.9zM656.2 332.6l2.5 4.6h-4.9zM647.3 331.6l2.5 4.6h-4.9zM669.7 315.2l2.5 4.6h-4.9zM650.7 325.9l2.5 4.6h-4.9zM651.6 322.6l2.5 4.6h-4.9zM659.6 320.1l2.5 4.6h-4.9zM646.4 317.3l2.5 4.6h-4.9zM668.6 330.8l2.5 4.6h-4.9zM645.7 328.0l2.5 4.6h-4.9zM670.8 325.9l2.5 4.6h-4.9zM673.5 325.3l2.5 4.6h-4.9zM657.6 320.4l2.5 4.6h-4.9zM693.7 327.2l2.5 4.6h-4.9zM706.9 313.7l2.5 4.6h-4.9zM685.3 333.3l2.5 4.6h-4.9zM697.0 317.9l2.5 4.6h-4.9zM693.0 311.4l2.5 4.6h-4.9zM679.6 310.8l2.5 4.6h-4.9zM702.2 313.4l2.5 4.6h-4.9zM686.8 318.5l2.5 4.6h-4.9zM697.3 311.7l2.5 4.6h-4.9zM675.0 314.3l2.5 4.6h-4.9zM693.2 319.1l2.5 4.6h-4.9zM677.2 317.3l2.5 4.6h-4.9zM683.3 328.9l2.5 4.6h-4.9zM697.9 310.3l2.5 4.6h-4.9zM701.8 312.6l2.5 4.6h-4.9zM687.7 320.9l2.5 4.6h-4.9zM675.7 312.6l2.5 4.6h-4.9zM698.8 327.9l2.5 4.6h-4.9zM700.3 335.3l2.5 4.6h-4.9zM736.0 317.7l2.5 4.6h-4.9zM728.5 327.1l2.5 4.6h-4.9zM714.6 329.8l2.5 4.6h-4.9zM736.7 325.3l2.5 4.6h-4.9zM732.5 317.2l2.5 4.6h-4.9zM734.6 318.5l2.5 4.6h-4.9zM717.0 324.6l2.5 4.6h-4.9zM727.0 322.0l2.5 4.6h-4.9zM734.2 329.6l2.5 4.6h-4.9zM724.2 333.0l2.5 4.6h-4.9zM720.2 320.0l2.5 4.6h-4.9zM739.0 318.1l2.5 4.6h-4.9zM711.5 332.3l2.5 4.6h-4.9zM729.5 318.2l2.5 4.6h-4.9zM733.4 327.6l2.5 4.6h-4.9zM721.9 323.7l2.5 4.6h-4.9zM738.0 324.0l2.5 4.6h-4.9zM710.5 321.3l2.5 4.6h-4.9zM717.0 335.0l2.5 4.6h-4.9zM721.4 320.3l2.5 4.6h-4.9zM732.0 329.9l2.5 4.6h-4.9zM709.8 327.7l2.5 4.6h-4.9zM640.3 351.3l2.5 4.6h-4.9zM619.0 360.4l2.5 4.6h-4.9zM612.1 348.9l2.5 4.6h-4.9zM616.4 350.6l2.5 4.6h-4.9zM623.0 359.1l2.5 4.6h-4.9zM612.4 348.2l2.5 4.6h-4.9zM619.4 338.9l2.5 4.6h-4.9zM637.4 353.0l2.5 4.6h-4.9zM621.4 350.0l2.5 4.6h-4.9zM624.5 337.7l2.5 4.6h-4.9zM620.7 337.0l2.5 4.6h-4.9zM613.2 358.3l2.5 4.6h-4.9zM635.4 343.8l2.5 4.6h-4.9zM610.6 359.1l2.5 4.6h-4.9zM612.2 342.5l2.5 4.6h-4.9zM637.5 351.1l2.5 4.6h-4.9zM624.2 356.5l2.5 4.6h-4.9zM639.8 351.2l2.5 4.6h-4.9zM639.9 337.9l2.5 4.6h-4.9zM626.9 354.0l2.5 4.6h-4.9zM637.5 348.5l2.5 4.6h-4.9zM630.4 343.6l2.5 4.6h-4.9zM633.7 351.2l2.5 4.6h-4.9zM642.1 349.9l2.5 4.6h-4.9zM616.2 356.8l2.5 4.6h-4.9zM624.6 339.5l2.5 4.6h-4.9zM673.5 349.0l2.5 4.6h-4.9zM647.9 341.4l2.5 4.6h-4.9zM650.7 360.3l2.5 4.6h-4.9zM668.7 337.0l2.5 4.6h-4.9zM665.1 344.7l2.5 4.6h-4.9zM656.6 355.5l2.5 4.6h-4.9zM651.9 343.7l2.5 4.6h-4.9zM672.5 356.7l2.5 4.6h-4.9zM669.3 355.5l2.5 4.6h-4.9zM673.4 355.8l2.5 4.6h-4.9zM666.5 343.7l2.5 4.6h-4.9zM665.2 360.6l2.5 4.6h-4.9zM660.9 354.8l2.5 4.6h-4.9zM648.1 348.2l2.5 4.6h-4.9zM659.5 355.2l2.5 4.6h-4.9zM659.2 342.3l2.5 4.6h-4.9zM674.3 348.7l2.5 4.6h-4.9zM646.3 358.1l2.5 4.6h-4.9zM654.3 360.9l2.5 4.6h-4.9zM643.4 356.0l2.5 4.6h-4.9zM664.4 354.8l2.5 4.6h-4.9zM643.6 349.3l2.5 4.6h-4.9zM658.7 343.9l2.5 4.6h-4.9zM645.3 352.1l2.5 4.6h-4.9zM686.6 361.8l2.5 4.6h-4.9zM682.3 346.3l2.5 4.6h-4.9zM696.1 339.6l2.5 4.6h-4.9zM679.6 338.4l2.5 4.6h-4.9zM702.2 356.6l2.5 4.6h-4.9zM678.6 343.4l2.5 4.6h-4.9zM696.2 337.6l2.5 4.6h-4.9zM676.7 341.0l2.5 4.6h-4.9zM699.9 342.6l2.5 4.6h-4.9zM699.0 340.4l2.5 4.6h-4.9zM695.3 353.7l2.5 4.6h-4.9zM695.5 340.6l2.5 4.6h-4.9zM689.8 342.7l2.5 4.6h-4.9zM685.2 344.8l2.5 4.6h-4.9zM704.2 341.0l2.5 4.6h-4.9zM687.6 356.5l2.5 4.6h-4.9zM677.3 356.4l2.5 4.6h-4.9zM704.1 352.3l2.5 4.6h-4.9zM704.7 348.0l2.5 4.6h-4.9zM700.0 362.1l2.5 4.6h-4.9zM690.8 347.9l2.5 4.6h-4.9zM705.6 354.3l2.5 4.6h-4.9zM723.5 346.4l2.5 4.6h-4.9zM730.4 361.5l2.5 4.6h-4.9zM723.5 348.2l2.5 4.6h-4.9zM723.6 337.2l2.5 4.6h-4.9zM733.9 355.0l2.5 4.6h-4.9zM727.5 354.3l2.5 4.6h-4.9zM733.4 347.4l2.5 4.6h-4.9zM725.7 342.4l2.5 4.6h-4.9zM725.2 353.1l2.5 4.6h-4.9zM725.4 341.2l2.5 4.6h-4.9zM716.2 337.1l2.5 4.6h-4.9zM720.8 351.2l2.5 4.6h-4.9zM718.6 353.6l2.5 4.6h-4.9zM719.6 348.4l2.5 4.6h-4.9zM713.7 350.0l2.5 4.6h-4.9zM714.2 341.9l2.5 4.6h-4.9zM721.1 352.7l2.5 4.6h-4.9zM723.9 342.0l2.5 4.6h-4.9zM725.7 354.4l2.5 4.6h-4.9zM714.1 339.2l2.5 4.6h-4.9zM735.3 345.0l2.5 4.6h-4.9zM725.4 348.8l2.5 4.6h-4.9zM723.8 344.3l2.5 4.6h-4.9zM712.1 354.3l2.5 4.6h-4.9zM729.2 360.5l2.5 4.6h-4.9zM723.3 358.3l2.5 4.6h-4.9zM626.3 388.2l2.5 4.6h-4.9zM615.4 370.1l2.5 4.6h-4.9zM635.0 373.3l2.5 4.6h-4.9zM628.3 385.5l2.5 4.6h-4.9zM616.9 363.9l2.5 4.6h-4.9zM610.6 378.5l2.5 4.6h-4.9zM640.7 368.5l2.5 4.6h-4.9zM626.4 373.5l2.5 4.6h-4.9zM626.0 383.9l2.5 4.6h-4.9zM638.7 377.6l2.5 4.6h-4.9zM625.3 386.1l2.5 4.6h-4.9zM624.4 370.2l2.5 4.6h-4.9zM625.5 379.6l2.5 4.6h-4.9zM617.6 381.8l2.5 4.6h-4.9zM622.1 363.8l2.5 4.6h-4.9zM632.7 385.5l2.5 4.6h-4.9zM639.5 388.0l2.5 4.6h-4.9zM611.5 387.8l2.5 4.6h-4.9zM639.2 385.6l2.5 4.6h-4.9zM610.3 379.9l2.5 4.6h-4.9zM616.4 385.9l2.5 4.6h-4.9zM618.9 363.7l2.5 4.6h-4.9zM629.1 380.4l2.5 4.6h-4.9zM627.3 373.0l2.5 4.6h-4.9zM644.6 381.2l2.5 4.6h-4.9zM642.7 377.4l2.5 4.6h-4.9zM645.6 374.2l2.5 4.6h-4.9zM661.2 368.7l2.5 4.6h-4.9zM666.8 368.9l2.5 4.6h-4.9zM670.4 372.5l2.5 4.6h-4.9zM664.6 374.1l2.5 4.6h-4.9zM652.8 364.6l2.5 4.6h-4.9zM662.2 363.6l2.5 4.6h-4.9zM657.6 372.9l2.5 4.6h-4.9zM651.9 368.8l2.5 4.6h-4.9zM658.2 385.4l2.5 4.6h-4.9zM668.1 370.3l2.5 4.6h-4.9zM661.6 378.8l2.5 4.6h-4.9zM665.8 378.6l2.5 4.6h-4.9zM644.5 366.0l2.5 4.6h-4.9zM667.9 369.1l2.5 4.6h-4.9zM660.8 363.6l2.5 4.6h-4.9zM661.2 369.8l2.5 4.6h-4.9zM643.8 362.6l2.5 4.6h-4.9zM650.2 375.8l2.5 4.6h-4.9zM666.7 363.0l2.5 4.6h-4.9zM658.8 371.0l2.5 4.6h-4.9zM662.0 380.7l2.5 4.6h-4.9zM645.2 368.7l2.5 4.6h-4.9zM670.5 379.7l2.5 4.6h-4.9zM680.1 376.4l2.5 4.6h-4.9zM686.5 366.3l2.5 4.6h-4.9zM687.9 376.2l2.5 4.6h-4.9zM696.0 385.4l2.5 4.6h-4.9zM683.6 388.2l2.5 4.6h-4.9zM686.7 379.2l2.5 4.6h-4.9zM687.6 374.0l2.5 4.6h-4.9zM697.0 381.7l2.5 4.6h-4.9zM676.9 362.8l2.5 4.6h-4.9zM686.0 370.6l2.5 4.6h-4.9zM689.2 387.1l2.5 4.6h-4.9zM684.5 368.2l2.5 4.6h-4.9zM688.7 371.0l2.5 4.6h-4.9zM688.1 376.0l2.5 4.6h-4.9zM678.4 382.1l2.5 4.6h-4.9zM695.3 382.0l2.5 4.6h-4.9zM689.0 366.8l2.5 4.6h-4.9zM698.8 385.1l2.5 4.6h-4.9zM703.7 381.2l2.5 4.6h-4.9zM678.8 369.9l2.5 4.6h-4.9zM697.1 363.3l2.5 4.6h-4.9zM683.9 372.4l2.5 4.6h-4.9zM700.6 362.9l2.5 4.6h-4.9zM683.6 379.0l2.5 4.6h-4.9zM707.3 370.3l2.5 4.6h-4.9zM731.1 374.4l2.5 4.6h-4.9zM731.3 368.7l2.5 4.6h-4.9zM730.3 366.3l2.5 4.6h-4.9zM727.6 383.0l2.5 4.6h-4.9zM709.2 369.6l2.5 4.6h-4.9zM717.9 385.5l2.5 4.6h-4.9zM709.4 373.0l2.5 4.6h-4.9zM739.5 364.6l2.5 4.6h-4.9zM738.2 364.1l2.5 4.6h-4.9zM724.8 374.0l2.5 4.6h-4.9zM729.4 369.7l2.5 4.6h-4.9zM722.5 385.0l2.5 4.6h-4.9zM712.5 385.7l2.5 4.6h-4.9zM710.3 366.8l2.5 4.6h-4.9zM714.4 376.4l2.5 4.6h-4.9zM717.2 374.6l2.5 4.6h-4.9zM709.1 370.1l2.5 4.6h-4.9zM707.3 365.4l2.5 4.6h-4.9zM728.5 376.9l2.5 4.6h-4.9zM722.2 362.9l2.5 4.6h-4.9zM731.8 364.8l2.5 4.6h-4.9zM729.9 372.9l2.5 4.6h-4.9zM735.5 364.8l2.5 4.6h-4.9zM718.6 363.3l2.5 4.6h-4.9zM737.6 378.4l2.5 4.6h-4.9zM718.2 366.4l2.5 4.6h-4.9zM736.1 371.6l2.5 4.6h-4.9zM747.4 374.5l2.5 4.6h-4.9zM763.4 383.7l2.5 4.6h-4.9zM743.1 382.4l2.5 4.6h-4.9zM798.7 363.8l2.5 4.6h-4.9zM784.6 381.3l2.5 4.6h-4.9zM789.9 385.0l2.5 4.6h-4.9zM770.4 379.2l2.5 4.6h-4.9zM778.4 373.8l2.5 4.6h-4.9zM748.0 376.5l2.5 4.6h-4.9zM774.4 371.3l2.5 4.6h-4.9zM788.0 385.5l2.5 4.6h-4.9zM773.2 372.2l2.5 4.6h-4.9zM773.2 381.6l2.5 4.6h-4.9zM759.3 383.9l2.5 4.6h-4.9zM783.4 380.7l2.5 4.6h-4.9zM779.0 364.0l2.5 4.6h-4.9zM782.4 385.0l2.5 4.6h-4.9zM783.9 384.4l2.5 4.6h-4.9zM748.8 374.2l2.5 4.6h-4.9zM787.2 387.1l2.5 4.6h-4.9zM744.6 367.6l2.5 4.6h-4.9zM755.0 368.9l2.5 4.6h-4.9zM782.5 373.0l2.5 4.6h-4.9zM801.0 380.0l2.5 4.6h-4.9zM785.7 386.0l2.5 4.6h-4.9zM796.8 362.9l2.5 4.6h-4.9zM767.4 379.3l2.5 4.6h-4.9zM787.6 386.0l2.5 4.6h-4.9zM752.8 375.2l2.5 4.6h-4.9zM799.4 367.1l2.5 4.6h-4.9zM741.9 373.4l2.5 4.6h-4.9zM750.7 363.1l2.5 4.6h-4.9zM765.5 378.9l2.5 4.6h-4.9zM782.3 384.7l2.5 4.6h-4.9zM757.9 369.5l2.5 4.6h-4.9zM799.7 363.7l2.5 4.6h-4.9zM779.0 365.8l2.5 4.6h-4.9zM789.9 365.3l2.5 4.6h-4.9zM795.2 369.9l2.5 4.6h-4.9zM801.5 378.8l2.5 4.6h-4.9zM760.5 353.7l2.5 4.6h-4.9zM757.8 358.6l2.5 4.6h-4.9zM750.2 357.5l2.5 4.6h-4.9zM754.0 360.5l2.5 4.6h-4.9zM766.9 360.3l2.5 4.6h-4.9zM752.9 352.6l2.5 4.6h-4.9zM756.7 361.9l2.5 4.6h-4.9zM745.0 353.0l2.5 4.6h-4.9zM112.6 290.1l2.5 4.6h-4.9zM112.0 289.7l2.5 4.6h-4.9zM113.5 266.4l2.5 4.6h-4.9zM109.0 278.5l2.5 4.6h-4.9zM110.2 281.3l2.5 4.6h-4.9zM109.6 277.4l2.5 4.6h-4.9zM109.0 294.5l2.5 4.6h-4.9zM110.4 289.2l2.5 4.6h-4.9zM107.8 290.5l2.5 4.6h-4.9zM112.3 262.7l2.5 4.6h-4.9zM110.2 308.1l2.5 4.6h-4.9zM112.6 299.5l2.5 4.6h-4.9zM108.4 325.5l2.5 4.6h-4.9zM109.2 324.9l2.5 4.6h-4.9zM111.0 299.5l2.5 4.6h-4.9zM117.2 308.2l2.5 4.6h-4.9zM107.3 315.2l2.5 4.6h-4.9zM109.0 302.2l2.5 4.6h-4.9zM110.9 334.3l2.5 4.6h-4.9zM111.2 319.4l2.5 4.6h-4.9zM109.0 308.2l2.5 4.6h-4.9zM112.6 329.6l2.5 4.6h-4.9zM110.2 327.9l2.5 4.6h-4.9zM112.3 307.9l2.5 4.6h-4.9zM109.6 305.3l2.5 4.6h-4.9zM114.6 322.2l2.5 4.6h-4.9zM113.3 342.6l2.5 4.6h-4.9zM114.1 355.7l2.5 4.6h-4.9zM107.3 344.3l2.5 4.6h-4.9zM108.8 340.0l2.5 4.6h-4.9zM116.9 372.9l2.5 4.6h-4.9zM112.8 336.3l2.5 4.6h-4.9zM104.7 373.7l2.5 4.6h-4.9zM113.1 344.6l2.5 4.6h-4.9zM116.5 342.2l2.5 4.6h-4.9zM114.7 350.7l2.5 4.6h-4.9zM109.6 361.0l2.5 4.6h-4.9zM108.3 351.1l2.5 4.6h-4.9zM115.5 349.6l2.5 4.6h-4.9zM115.6 357.7l2.5 4.6h-4.9zM107.8 345.3l2.5 4.6h-4.9zM108.4 372.7l2.5 4.6h-4.9zM111.8 351.9l2.5 4.6h-4.9zM113.1 369.0l2.5 4.6h-4.9zM109.3 362.8l2.5 4.6h-4.9zM113.4 370.9l2.5 4.6h-4.9zM107.0 365.6l2.5 4.6h-4.9zM108.7 340.1l2.5 4.6h-4.9zM105.2 343.6l2.5 4.6h-4.9zM112.6 355.5l2.5 4.6h-4.9zM110.3 347.6l2.5 4.6h-4.9zM111.3 368.6l2.5 4.6h-4.9zM108.2 340.6l2.5 4.6h-4.9zM112.8 359.4l2.5 4.6h-4.9zM112.6 361.5l2.5 4.6h-4.9zM106.5 358.9l2.5 4.6h-4.9zM105.3 356.5l2.5 4.6h-4.9zM109.9 372.2l2.5 4.6h-4.9zM114.5 361.9l2.5 4.6h-4.9zM108.8 373.3l2.5 4.6h-4.9zM111.6 351.7l2.5 4.6h-4.9zM111.7 351.0l2.5 4.6h-4.9zM107.3 337.4l2.5 4.6h-4.9zM105.4 355.4l2.5 4.6h-4.9zM111.4 345.3l2.5 4.6h-4.9zM105.9 337.3l2.5 4.6h-4.9zM107.9 354.2l2.5 4.6h-4.9zM116.1 358.8l2.5 4.6h-4.9zM106.2 366.3l2.5 4.6h-4.9zM107.9 359.5l2.5 4.6h-4.9zM113.4 345.1l2.5 4.6h-4.9zM115.0 365.0l2.5 4.6h-4.9zM105.3 366.1l2.5 4.6h-4.9zM111.7 368.7l2.5 4.6h-4.9zM113.8 384.3l2.5 4.6h-4.9zM109.6 408.4l2.5 4.6h-4.9zM112.7 382.5l2.5 4.6h-4.9zM106.5 384.5l2.5 4.6h-4.9zM106.7 383.2l2.5 4.6h-4.9zM110.7 413.5l2.5 4.6h-4.9zM112.7 389.3l2.5 4.6h-4.9zM106.9 395.6l2.5 4.6h-4.9zM110.7 392.4l2.5 4.6h-4.9zM107.9 414.7l2.5 4.6h-4.9zM114.0 399.6l2.5 4.6h-4.9zM117.2 376.4l2.5 4.6h-4.9zM109.1 392.4l2.5 4.6h-4.9zM114.9 381.0l2.5 4.6h-4.9zM107.8 376.9l2.5 4.6h-4.9zM112.2 375.5l2.5 4.6h-4.9zM107.5 389.4l2.5 4.6h-4.9zM106.4 378.4l2.5 4.6h-4.9zM116.5 387.6l2.5 4.6h-4.9zM107.3 383.1l2.5 4.6h-4.9zM115.4 376.2l2.5 4.6h-4.9zM114.9 375.5l2.5 4.6h-4.9zM107.3 377.4l2.5 4.6h-4.9zM107.6 406.4l2.5 4.6h-4.9zM106.8 396.0l2.5 4.6h-4.9zM115.3 379.2l2.5 4.6h-4.9zM107.8 401.3l2.5 4.6h-4.9zM107.2 409.4l2.5 4.6h-4.9zM108.6 404.0l2.5 4.6h-4.9zM105.3 387.0l2.5 4.6h-4.9zM115.0 392.8l2.5 4.6h-4.9zM112.7 405.2l2.5 4.6h-4.9zM116.1 404.4l2.5 4.6h-4.9zM109.3 395.0l2.5 4.6h-4.9zM111.2 378.4l2.5 4.6h-4.9zM106.9 399.7l2.5 4.6h-4.9zM108.6 410.4l2.5 4.6h-4.9zM115.8 413.8l2.5 4.6h-4.9zM115.4 379.4l2.5 4.6h-4.9zM109.1 395.8l2.5 4.6h-4.9zM106.3 403.4l2.5 4.6h-4.9zM108.5 403.4l2.5 4.6h-4.9zM107.0 394.9l2.5 4.6h-4.9zM111.0 394.1l2.5 4.6h-4.9zM112.0 409.2l2.5 4.6h-4.9zM114.3 379.1l2.5 4.6h-4.9zM107.7 393.4l2.5 4.6h-4.9zM107.6 386.5l2.5 4.6h-4.9zM108.1 381.3l2.5 4.6h-4.9zM114.6 407.1l2.5 4.6h-4.9zM108.1 406.5l2.5 4.6h-4.9zM109.5 387.3l2.5 4.6h-4.9zM111.3 437.0l2.5 4.6h-4.9zM111.9 419.6l2.5 4.6h-4.9zM107.0 431.0l2.5 4.6h-4.9zM107.3 429.8l2.5 4.6h-4.9zM106.1 416.0l2.5 4.6h-4.9zM110.3 421.1l2.5 4.6h-4.9zM110.2 441.2l2.5 4.6h-4.9zM110.4 426.0l2.5 4.6h-4.9zM105.1 432.5l2.5 4.6h-4.9zM111.6 433.8l2.5 4.6h-4.9zM106.6 418.2l2.5 4.6h-4.9zM104.2 427.7l2.5 4.6h-4.9zM108.7 425.0l2.5 4.6h-4.9zM106.2 437.2l2.5 4.6h-4.9zM105.9 448.4l2.5 4.6h-4.9zM107.4 435.7l2.5 4.6h-4.9zM109.6 445.8l2.5 4.6h-4.9zM105.4 451.1l2.5 4.6h-4.9zM105.4 441.1l2.5 4.6h-4.9zM111.6 421.6l2.5 4.6h-4.9zM106.7 434.2l2.5 4.6h-4.9zM110.1 420.5l2.5 4.6h-4.9zM111.4 427.6l2.5 4.6h-4.9zM108.7 448.8l2.5 4.6h-4.9zM111.7 441.7l2.5 4.6h-4.9zM111.1 449.1l2.5 4.6h-4.9zM104.5 417.8l2.5 4.6h-4.9zM108.0 419.0l2.5 4.6h-4.9zM107.7 418.4l2.5 4.6h-4.9zM106.5 415.5l2.5 4.6h-4.9zM109.1 444.4l2.5 4.6h-4.9zM106.0 415.7l2.5 4.6h-4.9zM106.1 426.3l2.5 4.6h-4.9zM108.9 437.8l2.5 4.6h-4.9zM108.0 423.2l2.5 4.6h-4.9zM109.2 417.3l2.5 4.6h-4.9zM108.9 450.2l2.5 4.6h-4.9zM105.9 450.2l2.5 4.6h-4.9zM107.3 431.8l2.5 4.6h-4.9zM107.3 426.3l2.5 4.6h-4.9zM108.4 421.7l2.5 4.6h-4.9zM108.9 429.7l2.5 4.6h-4.9zM108.3 433.0l2.5 4.6h-4.9zM105.2 451.3l2.5 4.6h-4.9zM105.8 440.0l2.5 4.6h-4.9zM103.3 454.3l2.5 4.6h-4.9zM107.5 453.8l2.5 4.6h-4.9zM111.1 453.8l2.5 4.6h-4.9zM105.1 453.8l2.5 4.6h-4.9zM111.5 454.1l2.5 4.6h-4.9zM100.2 454.3l2.5 4.6h-4.9zM103.0 453.9l2.5 4.6h-4.9zM101.8 454.2l2.5 4.6h-4.9zM109.5 453.9l2.5 4.6h-4.9zM116.9 454.0l2.5 4.6h-4.9zM102.3 454.4l2.5 4.6h-4.9zM108.7 454.1l2.5 4.6h-4.9zM110.3 454.1l2.5 4.6h-4.9zM107.4 453.7l2.5 4.6h-4.9zM113.6 454.2l2.5 4.6h-4.9zM112.1 453.7l2.5 4.6h-4.9zM108.0 454.0l2.5 4.6h-4.9zM108.9 454.3l2.5 4.6h-4.9zM104.4 454.4l2.5 4.6h-4.9zM111.8 453.7l2.5 4.6h-4.9zM114.6 454.3l2.5 4.6h-4.9zM104.6 454.5l2.5 4.6h-4.9zM112.0 486.9l2.5 4.6h-4.9zM114.1 461.4l2.5 4.6h-4.9zM110.8 459.5l2.5 4.6h-4.9zM104.6 459.5l2.5 4.6h-4.9zM106.7 462.2l2.5 4.6h-4.9zM117.9 467.9l2.5 4.6h-4.9zM115.8 472.5l2.5 4.6h-4.9zM115.8 466.8l2.5 4.6h-4.9zM110.8 488.1l2.5 4.6h-4.9zM114.2 467.8l2.5 4.6h-4.9zM106.5 458.7l2.5 4.6h-4.9zM112.7 471.7l2.5 4.6h-4.9zM116.9 475.7l2.5 4.6h-4.9zM105.0 472.4l2.5 4.6h-4.9zM114.4 468.0l2.5 4.6h-4.9zM110.8 466.2l2.5 4.6h-4.9zM95.4 493.5l2.5 4.6h-4.9zM107.7 493.5l2.5 4.6h-4.9zM772.0 493.7l2.5 4.6h-4.9zM774.4 493.7l2.5 4.6h-4.9zM775.7 493.7l2.5 4.6h-4.9zM778.2 493.4l2.5 4.6h-4.9zM780.3 493.6l2.5 4.6h-4.9zM781.9 493.8l2.5 4.6h-4.9zM783.3 493.3l2.5 4.6h-4.9zM786.2 493.4l2.5 4.6h-4.9zM787.9 493.6l2.5 4.6h-4.9zM789.8 493.5l2.5 4.6h-4.9zM790.6 493.4l2.5 4.6h-4.9zM792.3 493.5l2.5 4.6h-4.9zM794.7 493.3l2.5 4.6h-4.9zM796.0 493.6l2.5 4.6h-4.9zM797.6 493.7l2.5 4.6h-4.9zM799.2 493.8l2.5 4.6h-4.9zM801.4 493.3l2.5 4.6h-4.9zM802.9 493.6l2.5 4.6h-4.9zM804.5 493.6l2.5 4.6h-4.9zM806.6 493.5l2.5 4.6h-4.9zM809.1 493.8l2.5 4.6h-4.9zM811.7 493.3l2.5 4.6h-4.9zM813.1 493.7l2.5 4.6h-4.9zM815.8 493.2l2.5 4.6h-4.9zM818.2 493.3l2.5 4.6h-4.9zM820.7 493.4l2.5 4.6h-4.9zM822.4 493.6l2.5 4.6h-4.9zM824.0 493.8l2.5 4.6h-4.9zM825.6 493.5l2.5 4.6h-4.9zM827.7 493.7l2.5 4.6h-4.9zM829.7 493.3l2.5 4.6h-4.9zM831.7 493.7l2.5 4.6h-4.9zM833.6 493.3l2.5 4.6h-4.9zM834.7 493.7l2.5 4.6h-4.9zM835.6 493.2l2.5 4.6h-4.9zM837.8 493.6l2.5 4.6h-4.9zM840.5 493.4l2.5 4.6h-4.9zM841.6 493.6l2.5 4.6h-4.9zM843.9 493.4l2.5 4.6h-4.9zM845.5 493.3l2.5 4.6h-4.9zM847.0 493.6l2.5 4.6h-4.9zM848.2 493.5l2.5 4.6h-4.9zM849.6 493.6l2.5 4.6h-4.9zM852.0 493.5l2.5 4.6h-4.9zM854.8 493.2l2.5 4.6h-4.9zM855.9 493.7l2.5 4.6h-4.9zM858.7 493.2l2.5 4.6h-4.9zM860.3 493.3l2.5 4.6h-4.9zM862.6 493.4l2.5 4.6h-4.9zM865.1 493.8l2.5 4.6h-4.9zM866.3 493.4l2.5 4.6h-4.9zM867.7 493.7l2.5 4.6h-4.9zM869.0 493.2l2.5 4.6h-4.9zM872.1 493.4l2.5 4.6h-4.9zM873.0 493.5l2.5 4.6h-4.9zM875.0 493.6l2.5 4.6h-4.9zM877.9 493.8l2.5 4.6h-4.9zM880.2 493.7l2.5 4.6h-4.9zM881.0 493.3l2.5 4.6h-4.9zM884.2 493.7l2.5 4.6h-4.9zM885.6 493.4l2.5 4.6h-4.9zM886.8 493.7l2.5 4.6h-4.9zM889.6 493.2l2.5 4.6h-4.9zM891.0 493.5l2.5 4.6h-4.9zM893.0 493.5l2.5 4.6h-4.9zM893.9 493.4l2.5 4.6h-4.9zM895.3 493.7l2.5 4.6h-4.9zM898.3 493.6l2.5 4.6h-4.9zM900.2 493.6l2.5 4.6h-4.9zM902.6 493.5l2.5 4.6h-4.9zM903.5 493.7l2.5 4.6h-4.9zM905.4 493.3l2.5 4.6h-4.9zM907.2 493.7l2.5 4.6h-4.9zM908.9 493.4l2.5 4.6h-4.9zM911.0 493.6l2.5 4.6h-4.9zM913.0 493.2l2.5 4.6h-4.9zM915.0 493.2l2.5 4.6h-4.9zM917.6 493.5l2.5 4.6h-4.9zM919.0 493.7l2.5 4.6h-4.9zM920.7 493.4l2.5 4.6h-4.9zM923.2 493.6l2.5 4.6h-4.9zM926.2 493.6l2.5 4.6h-4.9zM927.1 493.3l2.5 4.6h-4.9zM929.0 493.4l2.5 4.6h-4.9zM929.6 493.4l2.5 4.6h-4.9zM931.9 493.4l2.5 4.6h-4.9zM934.6 493.7l2.5 4.6h-4.9zM826.0 487.4l2.5 4.6h-4.9zM897.2 485.7l2.5 4.6h-4.9zM900.6 489.6l2.5 4.6h-4.9zM815.9 484.7l2.5 4.6h-4.9zM847.6 485.9l2.5 4.6h-4.9zM798.8 487.0l2.5 4.6h-4.9zM830.1 489.2l2.5 4.6h-4.9zM871.5 489.5l2.5 4.6h-4.9zM883.3 487.1l2.5 4.6h-4.9zM821.9 487.0l2.5 4.6h-4.9zM847.0 487.6l2.5 4.6h-4.9zM853.3 490.2l2.5 4.6h-4.9zM823.1 488.1l2.5 4.6h-4.9zM799.4 488.1l2.5 4.6h-4.9zM855.2 488.8l2.5 4.6h-4.9zM836.4 485.5l2.5 4.6h-4.9zM822.2 486.3l2.5 4.6h-4.9zM798.8 490.3l2.5 4.6h-4.9zM872.4 490.4l2.5 4.6h-4.9zM906.8 486.3l2.5 4.6h-4.9zM815.4 487.7l2.5 4.6h-4.9zM830.3 487.2l2.5 4.6h-4.9zM869.9 489.8l2.5 4.6h-4.9zM905.5 485.7l2.5 4.6h-4.9zM883.4 485.9l2.5 4.6h-4.9zM890.8 483.2l2.5 4.6h-4.9zM899.5 481.8l2.5 4.6h-4.9zM882.8 488.6l2.5 4.6h-4.9zM899.0 481.1l2.5 4.6h-4.9zM881.4 484.9l2.5 4.6h-4.9zM873.3 487.6l2.5 4.6h-4.9zM894.5 483.1l2.5 4.6h-4.9zM881.2 480.9l2.5 4.6h-4.9zM874.9 485.6l2.5 4.6h-4.9zM891.0 488.8l2.5 4.6h-4.9zM902.8 487.5l2.5 4.6h-4.9zM892.7 481.5l2.5 4.6h-4.9zM886.3 489.4l2.5 4.6h-4.9zM902.0 487.6l2.5 4.6h-4.9zM906.7 488.7l2.5 4.6h-4.9zM877.7 489.6l2.5 4.6h-4.9zM910.7 485.8l2.5 4.6h-4.9zM892.6 488.7l2.5 4.6h-4.9zM903.0 489.5l2.5 4.6h-4.9z" fill="#5b8dcb" stroke="#4170ab" stroke-width="0.7" stroke-linejoin="round"/>
<path d="M839.1 77.3l2.3 -5.1l2.3 5.1z" fill="#5b8dcb" stroke="#4170ab" stroke-width="0.5" stroke-linejoin="round"/>
<line x1="834.2" y1="91.3" x2="847.6" y2="91.3" stroke="#a0282a" stroke-width="2.6"/>
<g font-size="17.5">
<text x="850.2" y="76.3" textLength="101.5" lengthAdjust="spacingAndGlyphs">Значения АМГ</text>
<text x="851" y="100.2" textLength="87" lengthAdjust="spacingAndGlyphs">Модель АМГ</text>
</g>
</svg>
</body></html>
